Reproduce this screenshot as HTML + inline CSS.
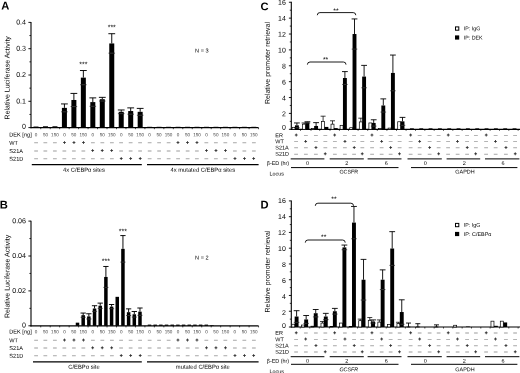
<!DOCTYPE html>
<html lang="en"><head><meta charset="utf-8"><title>Figure</title>
<style>
html,body{margin:0;padding:0;background:#fff;}
body{width:520px;height:373px;overflow:hidden;}
svg{display:block;font-family:"Liberation Sans", sans-serif;filter:blur(0.3px);text-rendering:geometricPrecision;}
</style></head><body>
<svg width="520" height="373" viewBox="0 0 520 373">
<rect x="0" y="0" width="520" height="373" fill="#fff"/>
<line x1="31.00" y1="22.10" x2="31.00" y2="128.20" stroke="#000" stroke-width="1.1" />
<line x1="30.50" y1="127.60" x2="258.50" y2="127.60" stroke="#000" stroke-width="1.2" />
<line x1="28.40" y1="127.60" x2="31.00" y2="127.60" stroke="#000" stroke-width="0.9" />
<text x="26.00" y="128.674" transform="matrix(1 0.001 0 1 0 0)" font-size="7.1" text-anchor="end" font-weight="normal" fill="#000" >0</text>
<line x1="28.40" y1="101.30" x2="31.00" y2="101.30" stroke="#000" stroke-width="0.9" />
<text x="26.00" y="103.374" transform="matrix(1 0.001 0 1 0 0)" font-size="7.1" text-anchor="end" font-weight="normal" fill="#000" >0.1</text>
<line x1="28.40" y1="75.00" x2="31.00" y2="75.00" stroke="#000" stroke-width="0.9" />
<text x="26.00" y="77.074" transform="matrix(1 0.001 0 1 0 0)" font-size="7.1" text-anchor="end" font-weight="normal" fill="#000" >0.2</text>
<line x1="28.40" y1="48.70" x2="31.00" y2="48.70" stroke="#000" stroke-width="0.9" />
<text x="26.00" y="50.774" transform="matrix(1 0.001 0 1 0 0)" font-size="7.1" text-anchor="end" font-weight="normal" fill="#000" >0.3</text>
<line x1="28.40" y1="22.40" x2="31.00" y2="22.40" stroke="#000" stroke-width="0.9" />
<text x="26.00" y="24.474" transform="matrix(1 0.001 0 1 0 0)" font-size="7.1" text-anchor="end" font-weight="normal" fill="#000" >0.4</text>
<line x1="29.40" y1="114.45" x2="31.00" y2="114.45" stroke="#000" stroke-width="0.8" />
<line x1="29.40" y1="88.15" x2="31.00" y2="88.15" stroke="#000" stroke-width="0.8" />
<line x1="29.40" y1="61.85" x2="31.00" y2="61.85" stroke="#000" stroke-width="0.8" />
<line x1="29.40" y1="35.55" x2="31.00" y2="35.55" stroke="#000" stroke-width="0.8" />
<text transform="translate(9.60,77.80) rotate(-90) matrix(1 0.001 0 1 0 0)" font-size="7.0" text-anchor="middle" fill="#000">Relative Luciferase Activity</text>
<text x="1.20" y="9.399" transform="matrix(1 0.001 0 1 0 0)" font-size="11.2" text-anchor="start" font-weight="bold" fill="#000" >A</text>
<line x1="40.74" y1="127.60" x2="40.74" y2="129.20" stroke="#000" stroke-width="0.7" />
<line x1="50.21" y1="127.60" x2="50.21" y2="129.20" stroke="#000" stroke-width="0.7" />
<line x1="59.68" y1="127.60" x2="59.68" y2="129.20" stroke="#000" stroke-width="0.7" />
<line x1="69.15" y1="127.60" x2="69.15" y2="129.20" stroke="#000" stroke-width="0.7" />
<line x1="78.62" y1="127.60" x2="78.62" y2="129.20" stroke="#000" stroke-width="0.7" />
<line x1="88.09" y1="127.60" x2="88.09" y2="129.20" stroke="#000" stroke-width="0.7" />
<line x1="97.56" y1="127.60" x2="97.56" y2="129.20" stroke="#000" stroke-width="0.7" />
<line x1="107.03" y1="127.60" x2="107.03" y2="129.20" stroke="#000" stroke-width="0.7" />
<line x1="116.50" y1="127.60" x2="116.50" y2="129.20" stroke="#000" stroke-width="0.7" />
<line x1="125.97" y1="127.60" x2="125.97" y2="129.20" stroke="#000" stroke-width="0.7" />
<line x1="135.44" y1="127.60" x2="135.44" y2="129.20" stroke="#000" stroke-width="0.7" />
<line x1="144.91" y1="127.60" x2="144.91" y2="129.20" stroke="#000" stroke-width="0.7" />
<line x1="154.38" y1="127.60" x2="154.38" y2="129.20" stroke="#000" stroke-width="0.7" />
<line x1="163.85" y1="127.60" x2="163.85" y2="129.20" stroke="#000" stroke-width="0.7" />
<line x1="173.32" y1="127.60" x2="173.32" y2="129.20" stroke="#000" stroke-width="0.7" />
<line x1="182.79" y1="127.60" x2="182.79" y2="129.20" stroke="#000" stroke-width="0.7" />
<line x1="192.26" y1="127.60" x2="192.26" y2="129.20" stroke="#000" stroke-width="0.7" />
<line x1="201.73" y1="127.60" x2="201.73" y2="129.20" stroke="#000" stroke-width="0.7" />
<line x1="211.20" y1="127.60" x2="211.20" y2="129.20" stroke="#000" stroke-width="0.7" />
<line x1="220.67" y1="127.60" x2="220.67" y2="129.20" stroke="#000" stroke-width="0.7" />
<line x1="230.14" y1="127.60" x2="230.14" y2="129.20" stroke="#000" stroke-width="0.7" />
<line x1="239.61" y1="127.60" x2="239.61" y2="129.20" stroke="#000" stroke-width="0.7" />
<line x1="249.08" y1="127.60" x2="249.08" y2="129.20" stroke="#000" stroke-width="0.7" />
<line x1="258.55" y1="127.60" x2="258.55" y2="129.20" stroke="#000" stroke-width="0.7" />
<rect x="33.50" y="126.55" width="5.00" height="1.05" fill="#000"/>
<rect x="42.97" y="126.28" width="5.00" height="1.31" fill="#000"/>
<rect x="52.44" y="126.28" width="5.00" height="1.31" fill="#000"/>
<rect x="61.91" y="107.88" width="5.00" height="19.72" fill="#000"/>
<line x1="64.41" y1="103.93" x2="64.41" y2="107.88" stroke="#000" stroke-width="0.95" />
<line x1="61.01" y1="103.93" x2="67.81" y2="103.93" stroke="#000" stroke-width="0.95" />
<line x1="61.11" y1="111.82" x2="67.71" y2="111.82" stroke="#000" stroke-width="0.6" />
<line x1="62.51" y1="111.82" x2="66.31" y2="111.82" stroke="#666" stroke-width="0.5" />
<rect x="71.38" y="99.98" width="5.00" height="27.61" fill="#000"/>
<line x1="73.88" y1="93.41" x2="73.88" y2="99.98" stroke="#000" stroke-width="0.95" />
<line x1="70.48" y1="93.41" x2="77.28" y2="93.41" stroke="#000" stroke-width="0.95" />
<line x1="70.58" y1="106.56" x2="77.18" y2="106.56" stroke="#000" stroke-width="0.6" />
<line x1="71.98" y1="106.56" x2="75.78" y2="106.56" stroke="#666" stroke-width="0.5" />
<rect x="80.85" y="77.63" width="5.00" height="49.97" fill="#000"/>
<line x1="83.35" y1="70.53" x2="83.35" y2="77.63" stroke="#000" stroke-width="0.95" />
<line x1="79.95" y1="70.53" x2="86.75" y2="70.53" stroke="#000" stroke-width="0.95" />
<line x1="80.05" y1="84.73" x2="86.65" y2="84.73" stroke="#000" stroke-width="0.6" />
<line x1="81.45" y1="84.73" x2="85.25" y2="84.73" stroke="#666" stroke-width="0.5" />
<rect x="90.32" y="102.09" width="5.00" height="25.51" fill="#000"/>
<line x1="92.82" y1="97.88" x2="92.82" y2="102.09" stroke="#000" stroke-width="0.95" />
<line x1="89.42" y1="97.88" x2="96.22" y2="97.88" stroke="#000" stroke-width="0.95" />
<line x1="89.52" y1="106.30" x2="96.12" y2="106.30" stroke="#000" stroke-width="0.6" />
<line x1="90.92" y1="106.30" x2="94.72" y2="106.30" stroke="#666" stroke-width="0.5" />
<rect x="99.79" y="99.20" width="5.00" height="28.40" fill="#000"/>
<line x1="102.29" y1="97.35" x2="102.29" y2="99.20" stroke="#000" stroke-width="0.95" />
<line x1="98.89" y1="97.35" x2="105.69" y2="97.35" stroke="#000" stroke-width="0.95" />
<line x1="98.99" y1="101.04" x2="105.59" y2="101.04" stroke="#000" stroke-width="0.6" />
<line x1="100.39" y1="101.04" x2="104.19" y2="101.04" stroke="#666" stroke-width="0.5" />
<rect x="109.26" y="43.44" width="5.00" height="84.16" fill="#000"/>
<line x1="111.76" y1="33.71" x2="111.76" y2="43.44" stroke="#000" stroke-width="0.95" />
<line x1="108.36" y1="33.71" x2="115.16" y2="33.71" stroke="#000" stroke-width="0.95" />
<line x1="108.46" y1="53.17" x2="115.06" y2="53.17" stroke="#000" stroke-width="0.6" />
<line x1="109.86" y1="53.17" x2="113.66" y2="53.17" stroke="#666" stroke-width="0.5" />
<rect x="118.73" y="111.82" width="5.00" height="15.78" fill="#000"/>
<line x1="121.23" y1="109.98" x2="121.23" y2="111.82" stroke="#000" stroke-width="0.95" />
<line x1="117.83" y1="109.98" x2="124.63" y2="109.98" stroke="#000" stroke-width="0.95" />
<line x1="117.93" y1="113.66" x2="124.53" y2="113.66" stroke="#000" stroke-width="0.6" />
<line x1="119.33" y1="113.66" x2="123.13" y2="113.66" stroke="#666" stroke-width="0.5" />
<rect x="128.20" y="111.03" width="5.00" height="16.57" fill="#000"/>
<line x1="130.70" y1="107.88" x2="130.70" y2="111.03" stroke="#000" stroke-width="0.95" />
<line x1="127.30" y1="107.88" x2="134.10" y2="107.88" stroke="#000" stroke-width="0.95" />
<line x1="127.40" y1="114.19" x2="134.00" y2="114.19" stroke="#000" stroke-width="0.6" />
<line x1="128.80" y1="114.19" x2="132.60" y2="114.19" stroke="#666" stroke-width="0.5" />
<rect x="137.67" y="111.82" width="5.00" height="15.78" fill="#000"/>
<line x1="140.17" y1="108.40" x2="140.17" y2="111.82" stroke="#000" stroke-width="0.95" />
<line x1="136.77" y1="108.40" x2="143.57" y2="108.40" stroke="#000" stroke-width="0.95" />
<line x1="136.87" y1="115.24" x2="143.47" y2="115.24" stroke="#000" stroke-width="0.6" />
<line x1="138.27" y1="115.24" x2="142.07" y2="115.24" stroke="#666" stroke-width="0.5" />
<rect x="147.14" y="126.81" width="5.00" height="0.79" fill="#000"/>
<rect x="156.61" y="126.81" width="5.00" height="0.79" fill="#000"/>
<rect x="166.08" y="126.81" width="5.00" height="0.79" fill="#000"/>
<rect x="175.55" y="126.81" width="5.00" height="0.79" fill="#000"/>
<rect x="185.02" y="126.81" width="5.00" height="0.79" fill="#000"/>
<rect x="194.49" y="126.81" width="5.00" height="0.79" fill="#000"/>
<rect x="203.96" y="126.81" width="5.00" height="0.79" fill="#000"/>
<rect x="213.43" y="126.81" width="5.00" height="0.79" fill="#000"/>
<rect x="222.90" y="126.81" width="5.00" height="0.79" fill="#000"/>
<rect x="232.37" y="126.81" width="5.00" height="0.79" fill="#000"/>
<rect x="241.84" y="126.81" width="5.00" height="0.79" fill="#000"/>
<rect x="251.31" y="126.81" width="5.00" height="0.79" fill="#000"/>
<text x="83.35" y="66.317" transform="matrix(1 0.001 0 1 0 0)" font-size="7" text-anchor="middle" font-weight="normal" fill="#000" >***</text>
<text x="111.76" y="29.488" transform="matrix(1 0.001 0 1 0 0)" font-size="7" text-anchor="middle" font-weight="normal" fill="#000" >***</text>
<text x="9.30" y="136.441" transform="matrix(1 0.001 0 1 0 0)" font-size="5.6" text-anchor="start" font-weight="normal" fill="#000" >DEK [ng]</text>
<text x="9.30" y="144.841" transform="matrix(1 0.001 0 1 0 0)" font-size="5.6" text-anchor="start" font-weight="normal" fill="#000" >WT</text>
<text x="9.30" y="152.941" transform="matrix(1 0.001 0 1 0 0)" font-size="5.6" text-anchor="start" font-weight="normal" fill="#000" >S21A</text>
<text x="9.30" y="160.741" transform="matrix(1 0.001 0 1 0 0)" font-size="5.6" text-anchor="start" font-weight="normal" fill="#000" >S21D</text>
<text x="36.00" y="136.214" transform="matrix(1 0.001 0 1 0 0)" font-size="4.6" text-anchor="middle" font-weight="normal" fill="#444" >0</text>
<text x="45.47" y="136.205" transform="matrix(1 0.001 0 1 0 0)" font-size="4.6" text-anchor="middle" font-weight="normal" fill="#444" >50</text>
<text x="54.94" y="136.195" transform="matrix(1 0.001 0 1 0 0)" font-size="4.6" text-anchor="middle" font-weight="normal" fill="#444" >150</text>
<text x="64.41" y="136.186" transform="matrix(1 0.001 0 1 0 0)" font-size="4.6" text-anchor="middle" font-weight="normal" fill="#444" >0</text>
<text x="73.88" y="136.176" transform="matrix(1 0.001 0 1 0 0)" font-size="4.6" text-anchor="middle" font-weight="normal" fill="#444" >50</text>
<text x="83.35" y="136.167" transform="matrix(1 0.001 0 1 0 0)" font-size="4.6" text-anchor="middle" font-weight="normal" fill="#444" >150</text>
<text x="92.82" y="136.157" transform="matrix(1 0.001 0 1 0 0)" font-size="4.6" text-anchor="middle" font-weight="normal" fill="#444" >0</text>
<text x="102.29" y="136.148" transform="matrix(1 0.001 0 1 0 0)" font-size="4.6" text-anchor="middle" font-weight="normal" fill="#444" >50</text>
<text x="111.76" y="136.138" transform="matrix(1 0.001 0 1 0 0)" font-size="4.6" text-anchor="middle" font-weight="normal" fill="#444" >150</text>
<text x="121.23" y="136.129" transform="matrix(1 0.001 0 1 0 0)" font-size="4.6" text-anchor="middle" font-weight="normal" fill="#444" >0</text>
<text x="130.70" y="136.119" transform="matrix(1 0.001 0 1 0 0)" font-size="4.6" text-anchor="middle" font-weight="normal" fill="#444" >50</text>
<text x="140.17" y="136.110" transform="matrix(1 0.001 0 1 0 0)" font-size="4.6" text-anchor="middle" font-weight="normal" fill="#444" >150</text>
<text x="149.64" y="136.100" transform="matrix(1 0.001 0 1 0 0)" font-size="4.6" text-anchor="middle" font-weight="normal" fill="#444" >0</text>
<text x="159.11" y="136.091" transform="matrix(1 0.001 0 1 0 0)" font-size="4.6" text-anchor="middle" font-weight="normal" fill="#444" >50</text>
<text x="168.58" y="136.081" transform="matrix(1 0.001 0 1 0 0)" font-size="4.6" text-anchor="middle" font-weight="normal" fill="#444" >150</text>
<text x="178.05" y="136.072" transform="matrix(1 0.001 0 1 0 0)" font-size="4.6" text-anchor="middle" font-weight="normal" fill="#444" >0</text>
<text x="187.52" y="136.062" transform="matrix(1 0.001 0 1 0 0)" font-size="4.6" text-anchor="middle" font-weight="normal" fill="#444" >50</text>
<text x="196.99" y="136.053" transform="matrix(1 0.001 0 1 0 0)" font-size="4.6" text-anchor="middle" font-weight="normal" fill="#444" >150</text>
<text x="206.46" y="136.044" transform="matrix(1 0.001 0 1 0 0)" font-size="4.6" text-anchor="middle" font-weight="normal" fill="#444" >0</text>
<text x="215.93" y="136.034" transform="matrix(1 0.001 0 1 0 0)" font-size="4.6" text-anchor="middle" font-weight="normal" fill="#444" >50</text>
<text x="225.40" y="136.025" transform="matrix(1 0.001 0 1 0 0)" font-size="4.6" text-anchor="middle" font-weight="normal" fill="#444" >150</text>
<text x="234.87" y="136.015" transform="matrix(1 0.001 0 1 0 0)" font-size="4.6" text-anchor="middle" font-weight="normal" fill="#444" >0</text>
<text x="244.34" y="136.006" transform="matrix(1 0.001 0 1 0 0)" font-size="4.6" text-anchor="middle" font-weight="normal" fill="#444" >50</text>
<text x="253.81" y="135.996" transform="matrix(1 0.001 0 1 0 0)" font-size="4.6" text-anchor="middle" font-weight="normal" fill="#444" >150</text>
<text x="36.00" y="144.314" transform="matrix(1 0.001 0 1 0 0)" font-size="5.8" text-anchor="middle" font-weight="normal" fill="#b4b4b4" stroke="#b4b4b4" stroke-width="0.55">&#8211;</text>
<text x="45.47" y="144.305" transform="matrix(1 0.001 0 1 0 0)" font-size="5.8" text-anchor="middle" font-weight="normal" fill="#b4b4b4" stroke="#b4b4b4" stroke-width="0.55">&#8211;</text>
<text x="54.94" y="144.295" transform="matrix(1 0.001 0 1 0 0)" font-size="5.8" text-anchor="middle" font-weight="normal" fill="#b4b4b4" stroke="#b4b4b4" stroke-width="0.55">&#8211;</text>
<text x="64.41" y="144.186" transform="matrix(1 0.001 0 1 0 0)" font-size="5" text-anchor="middle" font-weight="bold" fill="#111" stroke="#111" stroke-width="0.2">+</text>
<text x="73.88" y="144.176" transform="matrix(1 0.001 0 1 0 0)" font-size="5" text-anchor="middle" font-weight="bold" fill="#111" stroke="#111" stroke-width="0.2">+</text>
<text x="83.35" y="144.167" transform="matrix(1 0.001 0 1 0 0)" font-size="5" text-anchor="middle" font-weight="bold" fill="#111" stroke="#111" stroke-width="0.2">+</text>
<text x="92.82" y="144.257" transform="matrix(1 0.001 0 1 0 0)" font-size="5.8" text-anchor="middle" font-weight="normal" fill="#b4b4b4" stroke="#b4b4b4" stroke-width="0.55">&#8211;</text>
<text x="102.29" y="144.248" transform="matrix(1 0.001 0 1 0 0)" font-size="5.8" text-anchor="middle" font-weight="normal" fill="#b4b4b4" stroke="#b4b4b4" stroke-width="0.55">&#8211;</text>
<text x="111.76" y="144.238" transform="matrix(1 0.001 0 1 0 0)" font-size="5.8" text-anchor="middle" font-weight="normal" fill="#b4b4b4" stroke="#b4b4b4" stroke-width="0.55">&#8211;</text>
<text x="121.23" y="144.229" transform="matrix(1 0.001 0 1 0 0)" font-size="5.8" text-anchor="middle" font-weight="normal" fill="#b4b4b4" stroke="#b4b4b4" stroke-width="0.55">&#8211;</text>
<text x="130.70" y="144.219" transform="matrix(1 0.001 0 1 0 0)" font-size="5.8" text-anchor="middle" font-weight="normal" fill="#b4b4b4" stroke="#b4b4b4" stroke-width="0.55">&#8211;</text>
<text x="140.17" y="144.210" transform="matrix(1 0.001 0 1 0 0)" font-size="5.8" text-anchor="middle" font-weight="normal" fill="#b4b4b4" stroke="#b4b4b4" stroke-width="0.55">&#8211;</text>
<text x="149.64" y="144.200" transform="matrix(1 0.001 0 1 0 0)" font-size="5.8" text-anchor="middle" font-weight="normal" fill="#b4b4b4" stroke="#b4b4b4" stroke-width="0.55">&#8211;</text>
<text x="159.11" y="144.191" transform="matrix(1 0.001 0 1 0 0)" font-size="5.8" text-anchor="middle" font-weight="normal" fill="#b4b4b4" stroke="#b4b4b4" stroke-width="0.55">&#8211;</text>
<text x="168.58" y="144.181" transform="matrix(1 0.001 0 1 0 0)" font-size="5.8" text-anchor="middle" font-weight="normal" fill="#b4b4b4" stroke="#b4b4b4" stroke-width="0.55">&#8211;</text>
<text x="178.05" y="144.072" transform="matrix(1 0.001 0 1 0 0)" font-size="5" text-anchor="middle" font-weight="bold" fill="#111" stroke="#111" stroke-width="0.2">+</text>
<text x="187.52" y="144.062" transform="matrix(1 0.001 0 1 0 0)" font-size="5" text-anchor="middle" font-weight="bold" fill="#111" stroke="#111" stroke-width="0.2">+</text>
<text x="196.99" y="144.053" transform="matrix(1 0.001 0 1 0 0)" font-size="5" text-anchor="middle" font-weight="bold" fill="#111" stroke="#111" stroke-width="0.2">+</text>
<text x="206.46" y="144.144" transform="matrix(1 0.001 0 1 0 0)" font-size="5.8" text-anchor="middle" font-weight="normal" fill="#b4b4b4" stroke="#b4b4b4" stroke-width="0.55">&#8211;</text>
<text x="215.93" y="144.134" transform="matrix(1 0.001 0 1 0 0)" font-size="5.8" text-anchor="middle" font-weight="normal" fill="#b4b4b4" stroke="#b4b4b4" stroke-width="0.55">&#8211;</text>
<text x="225.40" y="144.125" transform="matrix(1 0.001 0 1 0 0)" font-size="5.8" text-anchor="middle" font-weight="normal" fill="#b4b4b4" stroke="#b4b4b4" stroke-width="0.55">&#8211;</text>
<text x="234.87" y="144.115" transform="matrix(1 0.001 0 1 0 0)" font-size="5.8" text-anchor="middle" font-weight="normal" fill="#b4b4b4" stroke="#b4b4b4" stroke-width="0.55">&#8211;</text>
<text x="244.34" y="144.106" transform="matrix(1 0.001 0 1 0 0)" font-size="5.8" text-anchor="middle" font-weight="normal" fill="#b4b4b4" stroke="#b4b4b4" stroke-width="0.55">&#8211;</text>
<text x="253.81" y="144.096" transform="matrix(1 0.001 0 1 0 0)" font-size="5.8" text-anchor="middle" font-weight="normal" fill="#b4b4b4" stroke="#b4b4b4" stroke-width="0.55">&#8211;</text>
<text x="36.00" y="152.414" transform="matrix(1 0.001 0 1 0 0)" font-size="5.8" text-anchor="middle" font-weight="normal" fill="#b4b4b4" stroke="#b4b4b4" stroke-width="0.55">&#8211;</text>
<text x="45.47" y="152.405" transform="matrix(1 0.001 0 1 0 0)" font-size="5.8" text-anchor="middle" font-weight="normal" fill="#b4b4b4" stroke="#b4b4b4" stroke-width="0.55">&#8211;</text>
<text x="54.94" y="152.395" transform="matrix(1 0.001 0 1 0 0)" font-size="5.8" text-anchor="middle" font-weight="normal" fill="#b4b4b4" stroke="#b4b4b4" stroke-width="0.55">&#8211;</text>
<text x="64.41" y="152.386" transform="matrix(1 0.001 0 1 0 0)" font-size="5.8" text-anchor="middle" font-weight="normal" fill="#b4b4b4" stroke="#b4b4b4" stroke-width="0.55">&#8211;</text>
<text x="73.88" y="152.376" transform="matrix(1 0.001 0 1 0 0)" font-size="5.8" text-anchor="middle" font-weight="normal" fill="#b4b4b4" stroke="#b4b4b4" stroke-width="0.55">&#8211;</text>
<text x="83.35" y="152.367" transform="matrix(1 0.001 0 1 0 0)" font-size="5.8" text-anchor="middle" font-weight="normal" fill="#b4b4b4" stroke="#b4b4b4" stroke-width="0.55">&#8211;</text>
<text x="92.82" y="152.257" transform="matrix(1 0.001 0 1 0 0)" font-size="5" text-anchor="middle" font-weight="bold" fill="#111" stroke="#111" stroke-width="0.2">+</text>
<text x="102.29" y="152.248" transform="matrix(1 0.001 0 1 0 0)" font-size="5" text-anchor="middle" font-weight="bold" fill="#111" stroke="#111" stroke-width="0.2">+</text>
<text x="111.76" y="152.238" transform="matrix(1 0.001 0 1 0 0)" font-size="5" text-anchor="middle" font-weight="bold" fill="#111" stroke="#111" stroke-width="0.2">+</text>
<text x="121.23" y="152.329" transform="matrix(1 0.001 0 1 0 0)" font-size="5.8" text-anchor="middle" font-weight="normal" fill="#b4b4b4" stroke="#b4b4b4" stroke-width="0.55">&#8211;</text>
<text x="130.70" y="152.319" transform="matrix(1 0.001 0 1 0 0)" font-size="5.8" text-anchor="middle" font-weight="normal" fill="#b4b4b4" stroke="#b4b4b4" stroke-width="0.55">&#8211;</text>
<text x="140.17" y="152.310" transform="matrix(1 0.001 0 1 0 0)" font-size="5.8" text-anchor="middle" font-weight="normal" fill="#b4b4b4" stroke="#b4b4b4" stroke-width="0.55">&#8211;</text>
<text x="149.64" y="152.300" transform="matrix(1 0.001 0 1 0 0)" font-size="5.8" text-anchor="middle" font-weight="normal" fill="#b4b4b4" stroke="#b4b4b4" stroke-width="0.55">&#8211;</text>
<text x="159.11" y="152.291" transform="matrix(1 0.001 0 1 0 0)" font-size="5.8" text-anchor="middle" font-weight="normal" fill="#b4b4b4" stroke="#b4b4b4" stroke-width="0.55">&#8211;</text>
<text x="168.58" y="152.281" transform="matrix(1 0.001 0 1 0 0)" font-size="5.8" text-anchor="middle" font-weight="normal" fill="#b4b4b4" stroke="#b4b4b4" stroke-width="0.55">&#8211;</text>
<text x="178.05" y="152.272" transform="matrix(1 0.001 0 1 0 0)" font-size="5.8" text-anchor="middle" font-weight="normal" fill="#b4b4b4" stroke="#b4b4b4" stroke-width="0.55">&#8211;</text>
<text x="187.52" y="152.262" transform="matrix(1 0.001 0 1 0 0)" font-size="5.8" text-anchor="middle" font-weight="normal" fill="#b4b4b4" stroke="#b4b4b4" stroke-width="0.55">&#8211;</text>
<text x="196.99" y="152.253" transform="matrix(1 0.001 0 1 0 0)" font-size="5.8" text-anchor="middle" font-weight="normal" fill="#b4b4b4" stroke="#b4b4b4" stroke-width="0.55">&#8211;</text>
<text x="206.46" y="152.144" transform="matrix(1 0.001 0 1 0 0)" font-size="5" text-anchor="middle" font-weight="bold" fill="#111" stroke="#111" stroke-width="0.2">+</text>
<text x="215.93" y="152.134" transform="matrix(1 0.001 0 1 0 0)" font-size="5" text-anchor="middle" font-weight="bold" fill="#111" stroke="#111" stroke-width="0.2">+</text>
<text x="225.40" y="152.125" transform="matrix(1 0.001 0 1 0 0)" font-size="5" text-anchor="middle" font-weight="bold" fill="#111" stroke="#111" stroke-width="0.2">+</text>
<text x="234.87" y="152.215" transform="matrix(1 0.001 0 1 0 0)" font-size="5.8" text-anchor="middle" font-weight="normal" fill="#b4b4b4" stroke="#b4b4b4" stroke-width="0.55">&#8211;</text>
<text x="244.34" y="152.206" transform="matrix(1 0.001 0 1 0 0)" font-size="5.8" text-anchor="middle" font-weight="normal" fill="#b4b4b4" stroke="#b4b4b4" stroke-width="0.55">&#8211;</text>
<text x="253.81" y="152.196" transform="matrix(1 0.001 0 1 0 0)" font-size="5.8" text-anchor="middle" font-weight="normal" fill="#b4b4b4" stroke="#b4b4b4" stroke-width="0.55">&#8211;</text>
<text x="36.00" y="160.214" transform="matrix(1 0.001 0 1 0 0)" font-size="5.8" text-anchor="middle" font-weight="normal" fill="#b4b4b4" stroke="#b4b4b4" stroke-width="0.55">&#8211;</text>
<text x="45.47" y="160.205" transform="matrix(1 0.001 0 1 0 0)" font-size="5.8" text-anchor="middle" font-weight="normal" fill="#b4b4b4" stroke="#b4b4b4" stroke-width="0.55">&#8211;</text>
<text x="54.94" y="160.195" transform="matrix(1 0.001 0 1 0 0)" font-size="5.8" text-anchor="middle" font-weight="normal" fill="#b4b4b4" stroke="#b4b4b4" stroke-width="0.55">&#8211;</text>
<text x="64.41" y="160.186" transform="matrix(1 0.001 0 1 0 0)" font-size="5.8" text-anchor="middle" font-weight="normal" fill="#b4b4b4" stroke="#b4b4b4" stroke-width="0.55">&#8211;</text>
<text x="73.88" y="160.176" transform="matrix(1 0.001 0 1 0 0)" font-size="5.8" text-anchor="middle" font-weight="normal" fill="#b4b4b4" stroke="#b4b4b4" stroke-width="0.55">&#8211;</text>
<text x="83.35" y="160.167" transform="matrix(1 0.001 0 1 0 0)" font-size="5.8" text-anchor="middle" font-weight="normal" fill="#b4b4b4" stroke="#b4b4b4" stroke-width="0.55">&#8211;</text>
<text x="92.82" y="160.157" transform="matrix(1 0.001 0 1 0 0)" font-size="5.8" text-anchor="middle" font-weight="normal" fill="#b4b4b4" stroke="#b4b4b4" stroke-width="0.55">&#8211;</text>
<text x="102.29" y="160.148" transform="matrix(1 0.001 0 1 0 0)" font-size="5.8" text-anchor="middle" font-weight="normal" fill="#b4b4b4" stroke="#b4b4b4" stroke-width="0.55">&#8211;</text>
<text x="111.76" y="160.138" transform="matrix(1 0.001 0 1 0 0)" font-size="5.8" text-anchor="middle" font-weight="normal" fill="#b4b4b4" stroke="#b4b4b4" stroke-width="0.55">&#8211;</text>
<text x="121.23" y="160.029" transform="matrix(1 0.001 0 1 0 0)" font-size="5" text-anchor="middle" font-weight="bold" fill="#111" stroke="#111" stroke-width="0.2">+</text>
<text x="130.70" y="160.019" transform="matrix(1 0.001 0 1 0 0)" font-size="5" text-anchor="middle" font-weight="bold" fill="#111" stroke="#111" stroke-width="0.2">+</text>
<text x="140.17" y="160.010" transform="matrix(1 0.001 0 1 0 0)" font-size="5" text-anchor="middle" font-weight="bold" fill="#111" stroke="#111" stroke-width="0.2">+</text>
<text x="149.64" y="160.100" transform="matrix(1 0.001 0 1 0 0)" font-size="5.8" text-anchor="middle" font-weight="normal" fill="#b4b4b4" stroke="#b4b4b4" stroke-width="0.55">&#8211;</text>
<text x="159.11" y="160.091" transform="matrix(1 0.001 0 1 0 0)" font-size="5.8" text-anchor="middle" font-weight="normal" fill="#b4b4b4" stroke="#b4b4b4" stroke-width="0.55">&#8211;</text>
<text x="168.58" y="160.081" transform="matrix(1 0.001 0 1 0 0)" font-size="5.8" text-anchor="middle" font-weight="normal" fill="#b4b4b4" stroke="#b4b4b4" stroke-width="0.55">&#8211;</text>
<text x="178.05" y="160.072" transform="matrix(1 0.001 0 1 0 0)" font-size="5.8" text-anchor="middle" font-weight="normal" fill="#b4b4b4" stroke="#b4b4b4" stroke-width="0.55">&#8211;</text>
<text x="187.52" y="160.062" transform="matrix(1 0.001 0 1 0 0)" font-size="5.8" text-anchor="middle" font-weight="normal" fill="#b4b4b4" stroke="#b4b4b4" stroke-width="0.55">&#8211;</text>
<text x="196.99" y="160.053" transform="matrix(1 0.001 0 1 0 0)" font-size="5.8" text-anchor="middle" font-weight="normal" fill="#b4b4b4" stroke="#b4b4b4" stroke-width="0.55">&#8211;</text>
<text x="206.46" y="160.044" transform="matrix(1 0.001 0 1 0 0)" font-size="5.8" text-anchor="middle" font-weight="normal" fill="#b4b4b4" stroke="#b4b4b4" stroke-width="0.55">&#8211;</text>
<text x="215.93" y="160.034" transform="matrix(1 0.001 0 1 0 0)" font-size="5.8" text-anchor="middle" font-weight="normal" fill="#b4b4b4" stroke="#b4b4b4" stroke-width="0.55">&#8211;</text>
<text x="225.40" y="160.025" transform="matrix(1 0.001 0 1 0 0)" font-size="5.8" text-anchor="middle" font-weight="normal" fill="#b4b4b4" stroke="#b4b4b4" stroke-width="0.55">&#8211;</text>
<text x="234.87" y="159.915" transform="matrix(1 0.001 0 1 0 0)" font-size="5" text-anchor="middle" font-weight="bold" fill="#111" stroke="#111" stroke-width="0.2">+</text>
<text x="244.34" y="159.906" transform="matrix(1 0.001 0 1 0 0)" font-size="5" text-anchor="middle" font-weight="bold" fill="#111" stroke="#111" stroke-width="0.2">+</text>
<text x="253.81" y="159.896" transform="matrix(1 0.001 0 1 0 0)" font-size="5" text-anchor="middle" font-weight="bold" fill="#111" stroke="#111" stroke-width="0.2">+</text>
<line x1="31.80" y1="164.60" x2="141.80" y2="164.60" stroke="#000" stroke-width="1.3" />
<line x1="147.00" y1="164.60" x2="258.60" y2="164.60" stroke="#000" stroke-width="1.3" />
<text x="84.00" y="171.716" transform="matrix(1 0.001 0 1 0 0)" font-size="5.8" text-anchor="middle" font-weight="normal" fill="#000" >4x C/EBP&#945; sites</text>
<text x="202.80" y="171.597" transform="matrix(1 0.001 0 1 0 0)" font-size="5.8" text-anchor="middle" font-weight="normal" fill="#000" >4x mutated C/EBP&#945; sites</text>
<text x="201.80" y="52.198" transform="matrix(1 0.001 0 1 0 0)" font-size="5.6" text-anchor="middle" font-weight="normal" fill="#000" >N = 3</text>
<line x1="31.00" y1="220.80" x2="31.00" y2="326.40" stroke="#000" stroke-width="1.1" />
<line x1="30.50" y1="325.80" x2="258.50" y2="325.80" stroke="#000" stroke-width="1.2" />
<line x1="28.40" y1="325.80" x2="31.00" y2="325.80" stroke="#000" stroke-width="0.9" />
<text x="26.00" y="327.524" transform="matrix(1 0.001 0 1 0 0)" font-size="7.1" text-anchor="end" font-weight="normal" fill="#000" >0</text>
<line x1="28.40" y1="290.90" x2="31.00" y2="290.90" stroke="#000" stroke-width="0.9" />
<text x="26.00" y="292.974" transform="matrix(1 0.001 0 1 0 0)" font-size="7.1" text-anchor="end" font-weight="normal" fill="#000" >0.02</text>
<line x1="28.40" y1="256.00" x2="31.00" y2="256.00" stroke="#000" stroke-width="0.9" />
<text x="26.00" y="258.074" transform="matrix(1 0.001 0 1 0 0)" font-size="7.1" text-anchor="end" font-weight="normal" fill="#000" >0.04</text>
<line x1="28.40" y1="221.10" x2="31.00" y2="221.10" stroke="#000" stroke-width="0.9" />
<text x="26.00" y="223.174" transform="matrix(1 0.001 0 1 0 0)" font-size="7.1" text-anchor="end" font-weight="normal" fill="#000" >0.06</text>
<line x1="29.40" y1="308.35" x2="31.00" y2="308.35" stroke="#000" stroke-width="0.8" />
<line x1="29.40" y1="273.45" x2="31.00" y2="273.45" stroke="#000" stroke-width="0.8" />
<line x1="29.40" y1="238.55" x2="31.00" y2="238.55" stroke="#000" stroke-width="0.8" />
<text transform="translate(9.60,276.40) rotate(-90) matrix(1 0.001 0 1 0 0)" font-size="7.0" text-anchor="middle" fill="#000">Relative Luciferase Activity</text>
<text x="-0.30" y="208.600" transform="matrix(1 0.001 0 1 0 0)" font-size="11.2" text-anchor="start" font-weight="bold" fill="#000" >B</text>
<line x1="40.74" y1="325.80" x2="40.74" y2="327.40" stroke="#000" stroke-width="0.7" />
<line x1="50.21" y1="325.80" x2="50.21" y2="327.40" stroke="#000" stroke-width="0.7" />
<line x1="59.68" y1="325.80" x2="59.68" y2="327.40" stroke="#000" stroke-width="0.7" />
<line x1="69.15" y1="325.80" x2="69.15" y2="327.40" stroke="#000" stroke-width="0.7" />
<line x1="78.62" y1="325.80" x2="78.62" y2="327.40" stroke="#000" stroke-width="0.7" />
<line x1="88.09" y1="325.80" x2="88.09" y2="327.40" stroke="#000" stroke-width="0.7" />
<line x1="97.56" y1="325.80" x2="97.56" y2="327.40" stroke="#000" stroke-width="0.7" />
<line x1="107.03" y1="325.80" x2="107.03" y2="327.40" stroke="#000" stroke-width="0.7" />
<line x1="116.50" y1="325.80" x2="116.50" y2="327.40" stroke="#000" stroke-width="0.7" />
<line x1="125.97" y1="325.80" x2="125.97" y2="327.40" stroke="#000" stroke-width="0.7" />
<line x1="135.44" y1="325.80" x2="135.44" y2="327.40" stroke="#000" stroke-width="0.7" />
<line x1="144.91" y1="325.80" x2="144.91" y2="327.40" stroke="#000" stroke-width="0.7" />
<line x1="154.38" y1="325.80" x2="154.38" y2="327.40" stroke="#000" stroke-width="0.7" />
<line x1="163.85" y1="325.80" x2="163.85" y2="327.40" stroke="#000" stroke-width="0.7" />
<line x1="173.32" y1="325.80" x2="173.32" y2="327.40" stroke="#000" stroke-width="0.7" />
<line x1="182.79" y1="325.80" x2="182.79" y2="327.40" stroke="#000" stroke-width="0.7" />
<line x1="192.26" y1="325.80" x2="192.26" y2="327.40" stroke="#000" stroke-width="0.7" />
<line x1="201.73" y1="325.80" x2="201.73" y2="327.40" stroke="#000" stroke-width="0.7" />
<line x1="211.20" y1="325.80" x2="211.20" y2="327.40" stroke="#000" stroke-width="0.7" />
<line x1="220.67" y1="325.80" x2="220.67" y2="327.40" stroke="#000" stroke-width="0.7" />
<line x1="230.14" y1="325.80" x2="230.14" y2="327.40" stroke="#000" stroke-width="0.7" />
<line x1="239.61" y1="325.80" x2="239.61" y2="327.40" stroke="#000" stroke-width="0.7" />
<line x1="249.08" y1="325.80" x2="249.08" y2="327.40" stroke="#000" stroke-width="0.7" />
<line x1="258.55" y1="325.80" x2="258.55" y2="327.40" stroke="#000" stroke-width="0.7" />
<rect x="75.75" y="322.66" width="3.50" height="3.14" fill="#000"/>
<rect x="81.43" y="315.16" width="3.50" height="10.64" fill="#000"/>
<line x1="83.18" y1="313.06" x2="83.18" y2="315.16" stroke="#000" stroke-width="0.95" />
<line x1="80.53" y1="313.06" x2="85.83" y2="313.06" stroke="#000" stroke-width="0.95" />
<line x1="80.63" y1="317.25" x2="85.73" y2="317.25" stroke="#000" stroke-width="0.6" />
<line x1="82.03" y1="317.25" x2="84.33" y2="317.25" stroke="#666" stroke-width="0.5" />
<rect x="87.11" y="316.38" width="3.50" height="9.42" fill="#000"/>
<line x1="88.86" y1="313.76" x2="88.86" y2="316.38" stroke="#000" stroke-width="0.95" />
<line x1="86.21" y1="313.76" x2="91.51" y2="313.76" stroke="#000" stroke-width="0.95" />
<line x1="86.31" y1="318.99" x2="91.41" y2="318.99" stroke="#000" stroke-width="0.6" />
<line x1="87.71" y1="318.99" x2="90.01" y2="318.99" stroke="#666" stroke-width="0.5" />
<rect x="92.79" y="308.52" width="3.50" height="17.28" fill="#000"/>
<line x1="94.54" y1="305.73" x2="94.54" y2="308.52" stroke="#000" stroke-width="0.95" />
<line x1="91.89" y1="305.73" x2="97.19" y2="305.73" stroke="#000" stroke-width="0.95" />
<line x1="91.99" y1="311.32" x2="97.09" y2="311.32" stroke="#000" stroke-width="0.6" />
<line x1="93.39" y1="311.32" x2="95.69" y2="311.32" stroke="#666" stroke-width="0.5" />
<rect x="98.47" y="305.73" width="3.50" height="20.07" fill="#000"/>
<line x1="100.22" y1="303.12" x2="100.22" y2="305.73" stroke="#000" stroke-width="0.95" />
<line x1="97.57" y1="303.12" x2="102.87" y2="303.12" stroke="#000" stroke-width="0.95" />
<line x1="97.67" y1="308.35" x2="102.77" y2="308.35" stroke="#000" stroke-width="0.6" />
<line x1="99.07" y1="308.35" x2="101.37" y2="308.35" stroke="#666" stroke-width="0.5" />
<rect x="104.15" y="276.94" width="3.50" height="48.86" fill="#000"/>
<line x1="105.90" y1="266.47" x2="105.90" y2="276.94" stroke="#000" stroke-width="0.95" />
<line x1="103.25" y1="266.47" x2="108.55" y2="266.47" stroke="#000" stroke-width="0.95" />
<line x1="103.35" y1="287.41" x2="108.45" y2="287.41" stroke="#000" stroke-width="0.6" />
<line x1="104.75" y1="287.41" x2="107.05" y2="287.41" stroke="#666" stroke-width="0.5" />
<rect x="109.83" y="306.61" width="3.50" height="19.19" fill="#000"/>
<line x1="111.58" y1="304.51" x2="111.58" y2="306.61" stroke="#000" stroke-width="0.95" />
<line x1="108.93" y1="304.51" x2="114.23" y2="304.51" stroke="#000" stroke-width="0.95" />
<line x1="109.03" y1="308.70" x2="114.13" y2="308.70" stroke="#000" stroke-width="0.6" />
<line x1="110.43" y1="308.70" x2="112.73" y2="308.70" stroke="#666" stroke-width="0.5" />
<rect x="115.51" y="296.83" width="3.50" height="28.97" fill="#000"/>
<rect x="121.19" y="248.85" width="3.50" height="76.95" fill="#000"/>
<line x1="122.94" y1="235.58" x2="122.94" y2="248.85" stroke="#000" stroke-width="0.95" />
<line x1="120.29" y1="235.58" x2="125.59" y2="235.58" stroke="#000" stroke-width="0.95" />
<line x1="120.39" y1="262.11" x2="125.49" y2="262.11" stroke="#000" stroke-width="0.6" />
<line x1="121.79" y1="262.11" x2="124.09" y2="262.11" stroke="#666" stroke-width="0.5" />
<rect x="126.87" y="312.19" width="3.50" height="13.61" fill="#000"/>
<line x1="128.62" y1="308.87" x2="128.62" y2="312.19" stroke="#000" stroke-width="0.95" />
<line x1="125.97" y1="308.87" x2="131.27" y2="308.87" stroke="#000" stroke-width="0.95" />
<line x1="126.07" y1="315.50" x2="131.17" y2="315.50" stroke="#000" stroke-width="0.6" />
<line x1="127.47" y1="315.50" x2="129.77" y2="315.50" stroke="#666" stroke-width="0.5" />
<rect x="132.55" y="314.28" width="3.50" height="11.52" fill="#000"/>
<line x1="134.30" y1="311.49" x2="134.30" y2="314.28" stroke="#000" stroke-width="0.95" />
<line x1="131.65" y1="311.49" x2="136.95" y2="311.49" stroke="#000" stroke-width="0.95" />
<line x1="131.75" y1="317.08" x2="136.85" y2="317.08" stroke="#000" stroke-width="0.6" />
<line x1="133.15" y1="317.08" x2="135.45" y2="317.08" stroke="#666" stroke-width="0.5" />
<rect x="138.23" y="311.67" width="3.50" height="14.13" fill="#000"/>
<line x1="139.98" y1="308.00" x2="139.98" y2="311.67" stroke="#000" stroke-width="0.95" />
<line x1="137.33" y1="308.00" x2="142.63" y2="308.00" stroke="#000" stroke-width="0.95" />
<line x1="137.43" y1="315.33" x2="142.53" y2="315.33" stroke="#000" stroke-width="0.6" />
<line x1="138.83" y1="315.33" x2="141.13" y2="315.33" stroke="#666" stroke-width="0.5" />
<rect x="147.75" y="324.60" width="3.50" height="1.20" fill="#000"/>
<rect x="153.43" y="324.60" width="3.50" height="1.20" fill="#000"/>
<rect x="159.11" y="324.60" width="3.50" height="1.20" fill="#000"/>
<rect x="164.79" y="324.60" width="3.50" height="1.20" fill="#000"/>
<rect x="170.47" y="324.60" width="3.50" height="1.20" fill="#000"/>
<rect x="176.15" y="324.60" width="3.50" height="1.20" fill="#000"/>
<rect x="181.83" y="324.60" width="3.50" height="1.20" fill="#000"/>
<rect x="187.51" y="324.60" width="3.50" height="1.20" fill="#000"/>
<rect x="193.19" y="324.60" width="3.50" height="1.20" fill="#000"/>
<rect x="198.87" y="324.60" width="3.50" height="1.20" fill="#000"/>
<rect x="204.55" y="324.60" width="3.50" height="1.20" fill="#000"/>
<rect x="210.23" y="325.20" width="3.50" height="0.60" fill="#000"/>
<text x="105.90" y="263.194" transform="matrix(1 0.001 0 1 0 0)" font-size="7" text-anchor="middle" font-weight="normal" fill="#000" >***</text>
<text x="122.94" y="233.477" transform="matrix(1 0.001 0 1 0 0)" font-size="7" text-anchor="middle" font-weight="normal" fill="#000" >***</text>
<text x="9.30" y="333.441" transform="matrix(1 0.001 0 1 0 0)" font-size="5.6" text-anchor="start" font-weight="normal" fill="#000" >DEK [ng]</text>
<text x="9.30" y="342.241" transform="matrix(1 0.001 0 1 0 0)" font-size="5.6" text-anchor="start" font-weight="normal" fill="#000" >WT</text>
<text x="9.30" y="350.041" transform="matrix(1 0.001 0 1 0 0)" font-size="5.6" text-anchor="start" font-weight="normal" fill="#000" >S21A</text>
<text x="9.30" y="357.741" transform="matrix(1 0.001 0 1 0 0)" font-size="5.6" text-anchor="start" font-weight="normal" fill="#000" >S21D</text>
<text x="36.00" y="333.214" transform="matrix(1 0.001 0 1 0 0)" font-size="4.6" text-anchor="middle" font-weight="normal" fill="#444" >0</text>
<text x="45.47" y="333.205" transform="matrix(1 0.001 0 1 0 0)" font-size="4.6" text-anchor="middle" font-weight="normal" fill="#444" >50</text>
<text x="54.94" y="333.195" transform="matrix(1 0.001 0 1 0 0)" font-size="4.6" text-anchor="middle" font-weight="normal" fill="#444" >150</text>
<text x="64.41" y="333.186" transform="matrix(1 0.001 0 1 0 0)" font-size="4.6" text-anchor="middle" font-weight="normal" fill="#444" >0</text>
<text x="73.88" y="333.176" transform="matrix(1 0.001 0 1 0 0)" font-size="4.6" text-anchor="middle" font-weight="normal" fill="#444" >50</text>
<text x="83.35" y="333.167" transform="matrix(1 0.001 0 1 0 0)" font-size="4.6" text-anchor="middle" font-weight="normal" fill="#444" >150</text>
<text x="92.82" y="333.157" transform="matrix(1 0.001 0 1 0 0)" font-size="4.6" text-anchor="middle" font-weight="normal" fill="#444" >0</text>
<text x="102.29" y="333.148" transform="matrix(1 0.001 0 1 0 0)" font-size="4.6" text-anchor="middle" font-weight="normal" fill="#444" >50</text>
<text x="111.76" y="333.138" transform="matrix(1 0.001 0 1 0 0)" font-size="4.6" text-anchor="middle" font-weight="normal" fill="#444" >150</text>
<text x="121.23" y="333.129" transform="matrix(1 0.001 0 1 0 0)" font-size="4.6" text-anchor="middle" font-weight="normal" fill="#444" >0</text>
<text x="130.70" y="333.119" transform="matrix(1 0.001 0 1 0 0)" font-size="4.6" text-anchor="middle" font-weight="normal" fill="#444" >50</text>
<text x="140.17" y="333.110" transform="matrix(1 0.001 0 1 0 0)" font-size="4.6" text-anchor="middle" font-weight="normal" fill="#444" >150</text>
<text x="149.64" y="333.100" transform="matrix(1 0.001 0 1 0 0)" font-size="4.6" text-anchor="middle" font-weight="normal" fill="#444" >0</text>
<text x="159.11" y="333.091" transform="matrix(1 0.001 0 1 0 0)" font-size="4.6" text-anchor="middle" font-weight="normal" fill="#444" >50</text>
<text x="168.58" y="333.081" transform="matrix(1 0.001 0 1 0 0)" font-size="4.6" text-anchor="middle" font-weight="normal" fill="#444" >150</text>
<text x="178.05" y="333.072" transform="matrix(1 0.001 0 1 0 0)" font-size="4.6" text-anchor="middle" font-weight="normal" fill="#444" >0</text>
<text x="187.52" y="333.062" transform="matrix(1 0.001 0 1 0 0)" font-size="4.6" text-anchor="middle" font-weight="normal" fill="#444" >50</text>
<text x="196.99" y="333.053" transform="matrix(1 0.001 0 1 0 0)" font-size="4.6" text-anchor="middle" font-weight="normal" fill="#444" >150</text>
<text x="206.46" y="333.044" transform="matrix(1 0.001 0 1 0 0)" font-size="4.6" text-anchor="middle" font-weight="normal" fill="#444" >0</text>
<text x="215.93" y="333.034" transform="matrix(1 0.001 0 1 0 0)" font-size="4.6" text-anchor="middle" font-weight="normal" fill="#444" >50</text>
<text x="225.40" y="333.025" transform="matrix(1 0.001 0 1 0 0)" font-size="4.6" text-anchor="middle" font-weight="normal" fill="#444" >150</text>
<text x="234.87" y="333.015" transform="matrix(1 0.001 0 1 0 0)" font-size="4.6" text-anchor="middle" font-weight="normal" fill="#444" >0</text>
<text x="244.34" y="333.006" transform="matrix(1 0.001 0 1 0 0)" font-size="4.6" text-anchor="middle" font-weight="normal" fill="#444" >50</text>
<text x="253.81" y="332.996" transform="matrix(1 0.001 0 1 0 0)" font-size="4.6" text-anchor="middle" font-weight="normal" fill="#444" >150</text>
<text x="36.00" y="341.714" transform="matrix(1 0.001 0 1 0 0)" font-size="5.8" text-anchor="middle" font-weight="normal" fill="#b4b4b4" stroke="#b4b4b4" stroke-width="0.55">&#8211;</text>
<text x="45.47" y="341.705" transform="matrix(1 0.001 0 1 0 0)" font-size="5.8" text-anchor="middle" font-weight="normal" fill="#b4b4b4" stroke="#b4b4b4" stroke-width="0.55">&#8211;</text>
<text x="54.94" y="341.695" transform="matrix(1 0.001 0 1 0 0)" font-size="5.8" text-anchor="middle" font-weight="normal" fill="#b4b4b4" stroke="#b4b4b4" stroke-width="0.55">&#8211;</text>
<text x="64.41" y="341.586" transform="matrix(1 0.001 0 1 0 0)" font-size="5" text-anchor="middle" font-weight="bold" fill="#111" stroke="#111" stroke-width="0.2">+</text>
<text x="73.88" y="341.576" transform="matrix(1 0.001 0 1 0 0)" font-size="5" text-anchor="middle" font-weight="bold" fill="#111" stroke="#111" stroke-width="0.2">+</text>
<text x="83.35" y="341.567" transform="matrix(1 0.001 0 1 0 0)" font-size="5" text-anchor="middle" font-weight="bold" fill="#111" stroke="#111" stroke-width="0.2">+</text>
<text x="92.82" y="341.657" transform="matrix(1 0.001 0 1 0 0)" font-size="5.8" text-anchor="middle" font-weight="normal" fill="#b4b4b4" stroke="#b4b4b4" stroke-width="0.55">&#8211;</text>
<text x="102.29" y="341.648" transform="matrix(1 0.001 0 1 0 0)" font-size="5.8" text-anchor="middle" font-weight="normal" fill="#b4b4b4" stroke="#b4b4b4" stroke-width="0.55">&#8211;</text>
<text x="111.76" y="341.638" transform="matrix(1 0.001 0 1 0 0)" font-size="5.8" text-anchor="middle" font-weight="normal" fill="#b4b4b4" stroke="#b4b4b4" stroke-width="0.55">&#8211;</text>
<text x="121.23" y="341.629" transform="matrix(1 0.001 0 1 0 0)" font-size="5.8" text-anchor="middle" font-weight="normal" fill="#b4b4b4" stroke="#b4b4b4" stroke-width="0.55">&#8211;</text>
<text x="130.70" y="341.619" transform="matrix(1 0.001 0 1 0 0)" font-size="5.8" text-anchor="middle" font-weight="normal" fill="#b4b4b4" stroke="#b4b4b4" stroke-width="0.55">&#8211;</text>
<text x="140.17" y="341.610" transform="matrix(1 0.001 0 1 0 0)" font-size="5.8" text-anchor="middle" font-weight="normal" fill="#b4b4b4" stroke="#b4b4b4" stroke-width="0.55">&#8211;</text>
<text x="149.64" y="341.600" transform="matrix(1 0.001 0 1 0 0)" font-size="5.8" text-anchor="middle" font-weight="normal" fill="#b4b4b4" stroke="#b4b4b4" stroke-width="0.55">&#8211;</text>
<text x="159.11" y="341.591" transform="matrix(1 0.001 0 1 0 0)" font-size="5.8" text-anchor="middle" font-weight="normal" fill="#b4b4b4" stroke="#b4b4b4" stroke-width="0.55">&#8211;</text>
<text x="168.58" y="341.581" transform="matrix(1 0.001 0 1 0 0)" font-size="5.8" text-anchor="middle" font-weight="normal" fill="#b4b4b4" stroke="#b4b4b4" stroke-width="0.55">&#8211;</text>
<text x="178.05" y="341.472" transform="matrix(1 0.001 0 1 0 0)" font-size="5" text-anchor="middle" font-weight="bold" fill="#111" stroke="#111" stroke-width="0.2">+</text>
<text x="187.52" y="341.462" transform="matrix(1 0.001 0 1 0 0)" font-size="5" text-anchor="middle" font-weight="bold" fill="#111" stroke="#111" stroke-width="0.2">+</text>
<text x="196.99" y="341.453" transform="matrix(1 0.001 0 1 0 0)" font-size="5" text-anchor="middle" font-weight="bold" fill="#111" stroke="#111" stroke-width="0.2">+</text>
<text x="206.46" y="341.544" transform="matrix(1 0.001 0 1 0 0)" font-size="5.8" text-anchor="middle" font-weight="normal" fill="#b4b4b4" stroke="#b4b4b4" stroke-width="0.55">&#8211;</text>
<text x="215.93" y="341.534" transform="matrix(1 0.001 0 1 0 0)" font-size="5.8" text-anchor="middle" font-weight="normal" fill="#b4b4b4" stroke="#b4b4b4" stroke-width="0.55">&#8211;</text>
<text x="225.40" y="341.525" transform="matrix(1 0.001 0 1 0 0)" font-size="5.8" text-anchor="middle" font-weight="normal" fill="#b4b4b4" stroke="#b4b4b4" stroke-width="0.55">&#8211;</text>
<text x="234.87" y="341.515" transform="matrix(1 0.001 0 1 0 0)" font-size="5.8" text-anchor="middle" font-weight="normal" fill="#b4b4b4" stroke="#b4b4b4" stroke-width="0.55">&#8211;</text>
<text x="244.34" y="341.506" transform="matrix(1 0.001 0 1 0 0)" font-size="5.8" text-anchor="middle" font-weight="normal" fill="#b4b4b4" stroke="#b4b4b4" stroke-width="0.55">&#8211;</text>
<text x="253.81" y="341.496" transform="matrix(1 0.001 0 1 0 0)" font-size="5.8" text-anchor="middle" font-weight="normal" fill="#b4b4b4" stroke="#b4b4b4" stroke-width="0.55">&#8211;</text>
<text x="36.00" y="349.514" transform="matrix(1 0.001 0 1 0 0)" font-size="5.8" text-anchor="middle" font-weight="normal" fill="#b4b4b4" stroke="#b4b4b4" stroke-width="0.55">&#8211;</text>
<text x="45.47" y="349.505" transform="matrix(1 0.001 0 1 0 0)" font-size="5.8" text-anchor="middle" font-weight="normal" fill="#b4b4b4" stroke="#b4b4b4" stroke-width="0.55">&#8211;</text>
<text x="54.94" y="349.495" transform="matrix(1 0.001 0 1 0 0)" font-size="5.8" text-anchor="middle" font-weight="normal" fill="#b4b4b4" stroke="#b4b4b4" stroke-width="0.55">&#8211;</text>
<text x="64.41" y="349.486" transform="matrix(1 0.001 0 1 0 0)" font-size="5.8" text-anchor="middle" font-weight="normal" fill="#b4b4b4" stroke="#b4b4b4" stroke-width="0.55">&#8211;</text>
<text x="73.88" y="349.476" transform="matrix(1 0.001 0 1 0 0)" font-size="5.8" text-anchor="middle" font-weight="normal" fill="#b4b4b4" stroke="#b4b4b4" stroke-width="0.55">&#8211;</text>
<text x="83.35" y="349.467" transform="matrix(1 0.001 0 1 0 0)" font-size="5.8" text-anchor="middle" font-weight="normal" fill="#b4b4b4" stroke="#b4b4b4" stroke-width="0.55">&#8211;</text>
<text x="92.82" y="349.357" transform="matrix(1 0.001 0 1 0 0)" font-size="5" text-anchor="middle" font-weight="bold" fill="#111" stroke="#111" stroke-width="0.2">+</text>
<text x="102.29" y="349.348" transform="matrix(1 0.001 0 1 0 0)" font-size="5" text-anchor="middle" font-weight="bold" fill="#111" stroke="#111" stroke-width="0.2">+</text>
<text x="111.76" y="349.338" transform="matrix(1 0.001 0 1 0 0)" font-size="5" text-anchor="middle" font-weight="bold" fill="#111" stroke="#111" stroke-width="0.2">+</text>
<text x="121.23" y="349.429" transform="matrix(1 0.001 0 1 0 0)" font-size="5.8" text-anchor="middle" font-weight="normal" fill="#b4b4b4" stroke="#b4b4b4" stroke-width="0.55">&#8211;</text>
<text x="130.70" y="349.419" transform="matrix(1 0.001 0 1 0 0)" font-size="5.8" text-anchor="middle" font-weight="normal" fill="#b4b4b4" stroke="#b4b4b4" stroke-width="0.55">&#8211;</text>
<text x="140.17" y="349.410" transform="matrix(1 0.001 0 1 0 0)" font-size="5.8" text-anchor="middle" font-weight="normal" fill="#b4b4b4" stroke="#b4b4b4" stroke-width="0.55">&#8211;</text>
<text x="149.64" y="349.400" transform="matrix(1 0.001 0 1 0 0)" font-size="5.8" text-anchor="middle" font-weight="normal" fill="#b4b4b4" stroke="#b4b4b4" stroke-width="0.55">&#8211;</text>
<text x="159.11" y="349.391" transform="matrix(1 0.001 0 1 0 0)" font-size="5.8" text-anchor="middle" font-weight="normal" fill="#b4b4b4" stroke="#b4b4b4" stroke-width="0.55">&#8211;</text>
<text x="168.58" y="349.381" transform="matrix(1 0.001 0 1 0 0)" font-size="5.8" text-anchor="middle" font-weight="normal" fill="#b4b4b4" stroke="#b4b4b4" stroke-width="0.55">&#8211;</text>
<text x="178.05" y="349.372" transform="matrix(1 0.001 0 1 0 0)" font-size="5.8" text-anchor="middle" font-weight="normal" fill="#b4b4b4" stroke="#b4b4b4" stroke-width="0.55">&#8211;</text>
<text x="187.52" y="349.362" transform="matrix(1 0.001 0 1 0 0)" font-size="5.8" text-anchor="middle" font-weight="normal" fill="#b4b4b4" stroke="#b4b4b4" stroke-width="0.55">&#8211;</text>
<text x="196.99" y="349.353" transform="matrix(1 0.001 0 1 0 0)" font-size="5.8" text-anchor="middle" font-weight="normal" fill="#b4b4b4" stroke="#b4b4b4" stroke-width="0.55">&#8211;</text>
<text x="206.46" y="349.244" transform="matrix(1 0.001 0 1 0 0)" font-size="5" text-anchor="middle" font-weight="bold" fill="#111" stroke="#111" stroke-width="0.2">+</text>
<text x="215.93" y="349.234" transform="matrix(1 0.001 0 1 0 0)" font-size="5" text-anchor="middle" font-weight="bold" fill="#111" stroke="#111" stroke-width="0.2">+</text>
<text x="225.40" y="349.225" transform="matrix(1 0.001 0 1 0 0)" font-size="5" text-anchor="middle" font-weight="bold" fill="#111" stroke="#111" stroke-width="0.2">+</text>
<text x="234.87" y="349.315" transform="matrix(1 0.001 0 1 0 0)" font-size="5.8" text-anchor="middle" font-weight="normal" fill="#b4b4b4" stroke="#b4b4b4" stroke-width="0.55">&#8211;</text>
<text x="244.34" y="349.306" transform="matrix(1 0.001 0 1 0 0)" font-size="5.8" text-anchor="middle" font-weight="normal" fill="#b4b4b4" stroke="#b4b4b4" stroke-width="0.55">&#8211;</text>
<text x="253.81" y="349.296" transform="matrix(1 0.001 0 1 0 0)" font-size="5.8" text-anchor="middle" font-weight="normal" fill="#b4b4b4" stroke="#b4b4b4" stroke-width="0.55">&#8211;</text>
<text x="36.00" y="357.214" transform="matrix(1 0.001 0 1 0 0)" font-size="5.8" text-anchor="middle" font-weight="normal" fill="#b4b4b4" stroke="#b4b4b4" stroke-width="0.55">&#8211;</text>
<text x="45.47" y="357.205" transform="matrix(1 0.001 0 1 0 0)" font-size="5.8" text-anchor="middle" font-weight="normal" fill="#b4b4b4" stroke="#b4b4b4" stroke-width="0.55">&#8211;</text>
<text x="54.94" y="357.195" transform="matrix(1 0.001 0 1 0 0)" font-size="5.8" text-anchor="middle" font-weight="normal" fill="#b4b4b4" stroke="#b4b4b4" stroke-width="0.55">&#8211;</text>
<text x="64.41" y="357.186" transform="matrix(1 0.001 0 1 0 0)" font-size="5.8" text-anchor="middle" font-weight="normal" fill="#b4b4b4" stroke="#b4b4b4" stroke-width="0.55">&#8211;</text>
<text x="73.88" y="357.176" transform="matrix(1 0.001 0 1 0 0)" font-size="5.8" text-anchor="middle" font-weight="normal" fill="#b4b4b4" stroke="#b4b4b4" stroke-width="0.55">&#8211;</text>
<text x="83.35" y="357.167" transform="matrix(1 0.001 0 1 0 0)" font-size="5.8" text-anchor="middle" font-weight="normal" fill="#b4b4b4" stroke="#b4b4b4" stroke-width="0.55">&#8211;</text>
<text x="92.82" y="357.157" transform="matrix(1 0.001 0 1 0 0)" font-size="5.8" text-anchor="middle" font-weight="normal" fill="#b4b4b4" stroke="#b4b4b4" stroke-width="0.55">&#8211;</text>
<text x="102.29" y="357.148" transform="matrix(1 0.001 0 1 0 0)" font-size="5.8" text-anchor="middle" font-weight="normal" fill="#b4b4b4" stroke="#b4b4b4" stroke-width="0.55">&#8211;</text>
<text x="111.76" y="357.138" transform="matrix(1 0.001 0 1 0 0)" font-size="5.8" text-anchor="middle" font-weight="normal" fill="#b4b4b4" stroke="#b4b4b4" stroke-width="0.55">&#8211;</text>
<text x="121.23" y="357.029" transform="matrix(1 0.001 0 1 0 0)" font-size="5" text-anchor="middle" font-weight="bold" fill="#111" stroke="#111" stroke-width="0.2">+</text>
<text x="130.70" y="357.019" transform="matrix(1 0.001 0 1 0 0)" font-size="5" text-anchor="middle" font-weight="bold" fill="#111" stroke="#111" stroke-width="0.2">+</text>
<text x="140.17" y="357.010" transform="matrix(1 0.001 0 1 0 0)" font-size="5" text-anchor="middle" font-weight="bold" fill="#111" stroke="#111" stroke-width="0.2">+</text>
<text x="149.64" y="357.100" transform="matrix(1 0.001 0 1 0 0)" font-size="5.8" text-anchor="middle" font-weight="normal" fill="#b4b4b4" stroke="#b4b4b4" stroke-width="0.55">&#8211;</text>
<text x="159.11" y="357.091" transform="matrix(1 0.001 0 1 0 0)" font-size="5.8" text-anchor="middle" font-weight="normal" fill="#b4b4b4" stroke="#b4b4b4" stroke-width="0.55">&#8211;</text>
<text x="168.58" y="357.081" transform="matrix(1 0.001 0 1 0 0)" font-size="5.8" text-anchor="middle" font-weight="normal" fill="#b4b4b4" stroke="#b4b4b4" stroke-width="0.55">&#8211;</text>
<text x="178.05" y="357.072" transform="matrix(1 0.001 0 1 0 0)" font-size="5.8" text-anchor="middle" font-weight="normal" fill="#b4b4b4" stroke="#b4b4b4" stroke-width="0.55">&#8211;</text>
<text x="187.52" y="357.062" transform="matrix(1 0.001 0 1 0 0)" font-size="5.8" text-anchor="middle" font-weight="normal" fill="#b4b4b4" stroke="#b4b4b4" stroke-width="0.55">&#8211;</text>
<text x="196.99" y="357.053" transform="matrix(1 0.001 0 1 0 0)" font-size="5.8" text-anchor="middle" font-weight="normal" fill="#b4b4b4" stroke="#b4b4b4" stroke-width="0.55">&#8211;</text>
<text x="206.46" y="357.044" transform="matrix(1 0.001 0 1 0 0)" font-size="5.8" text-anchor="middle" font-weight="normal" fill="#b4b4b4" stroke="#b4b4b4" stroke-width="0.55">&#8211;</text>
<text x="215.93" y="357.034" transform="matrix(1 0.001 0 1 0 0)" font-size="5.8" text-anchor="middle" font-weight="normal" fill="#b4b4b4" stroke="#b4b4b4" stroke-width="0.55">&#8211;</text>
<text x="225.40" y="357.025" transform="matrix(1 0.001 0 1 0 0)" font-size="5.8" text-anchor="middle" font-weight="normal" fill="#b4b4b4" stroke="#b4b4b4" stroke-width="0.55">&#8211;</text>
<text x="234.87" y="356.915" transform="matrix(1 0.001 0 1 0 0)" font-size="5" text-anchor="middle" font-weight="bold" fill="#111" stroke="#111" stroke-width="0.2">+</text>
<text x="244.34" y="356.906" transform="matrix(1 0.001 0 1 0 0)" font-size="5" text-anchor="middle" font-weight="bold" fill="#111" stroke="#111" stroke-width="0.2">+</text>
<text x="253.81" y="356.896" transform="matrix(1 0.001 0 1 0 0)" font-size="5" text-anchor="middle" font-weight="bold" fill="#111" stroke="#111" stroke-width="0.2">+</text>
<line x1="33.00" y1="361.90" x2="141.80" y2="361.90" stroke="#000" stroke-width="1.3" />
<line x1="147.00" y1="361.90" x2="258.60" y2="361.90" stroke="#000" stroke-width="1.3" />
<text x="84.00" y="368.716" transform="matrix(1 0.001 0 1 0 0)" font-size="5.8" text-anchor="middle" font-weight="normal" fill="#000" >C/EBP&#945; site</text>
<text x="202.80" y="368.597" transform="matrix(1 0.001 0 1 0 0)" font-size="5.8" text-anchor="middle" font-weight="normal" fill="#000" >mutated C/EBP&#945; site</text>
<text x="201.80" y="259.298" transform="matrix(1 0.001 0 1 0 0)" font-size="5.6" text-anchor="middle" font-weight="normal" fill="#000" >N = 2</text>
<line x1="291.30" y1="1.86" x2="291.30" y2="129.90" stroke="#000" stroke-width="1.1" />
<line x1="290.80" y1="129.30" x2="520.00" y2="129.30" stroke="#000" stroke-width="1.2" />
<line x1="288.90" y1="129.30" x2="291.30" y2="129.30" stroke="#000" stroke-width="0.9" />
<text x="285.90" y="129.394" transform="matrix(1 0.001 0 1 0 0)" font-size="7.0" text-anchor="end" font-weight="normal" fill="#000" >0</text>
<line x1="288.90" y1="113.42" x2="291.30" y2="113.42" stroke="#000" stroke-width="0.9" />
<text x="285.90" y="116.054" transform="matrix(1 0.001 0 1 0 0)" font-size="7.0" text-anchor="end" font-weight="normal" fill="#000" >2</text>
<line x1="288.90" y1="97.54" x2="291.30" y2="97.54" stroke="#000" stroke-width="0.9" />
<text x="285.90" y="100.114" transform="matrix(1 0.001 0 1 0 0)" font-size="7.0" text-anchor="end" font-weight="normal" fill="#000" >4</text>
<line x1="288.90" y1="81.66" x2="291.30" y2="81.66" stroke="#000" stroke-width="0.9" />
<text x="285.90" y="84.174" transform="matrix(1 0.001 0 1 0 0)" font-size="7.0" text-anchor="end" font-weight="normal" fill="#000" >6</text>
<line x1="288.90" y1="65.78" x2="291.30" y2="65.78" stroke="#000" stroke-width="0.9" />
<text x="285.90" y="68.234" transform="matrix(1 0.001 0 1 0 0)" font-size="7.0" text-anchor="end" font-weight="normal" fill="#000" >8</text>
<line x1="288.90" y1="49.90" x2="291.30" y2="49.90" stroke="#000" stroke-width="0.9" />
<text x="285.90" y="52.294" transform="matrix(1 0.001 0 1 0 0)" font-size="7.0" text-anchor="end" font-weight="normal" fill="#000" >10</text>
<line x1="288.90" y1="34.02" x2="291.30" y2="34.02" stroke="#000" stroke-width="0.9" />
<text x="285.90" y="36.354" transform="matrix(1 0.001 0 1 0 0)" font-size="7.0" text-anchor="end" font-weight="normal" fill="#000" >12</text>
<line x1="288.90" y1="18.14" x2="291.30" y2="18.14" stroke="#000" stroke-width="0.9" />
<text x="285.90" y="20.414" transform="matrix(1 0.001 0 1 0 0)" font-size="7.0" text-anchor="end" font-weight="normal" fill="#000" >14</text>
<line x1="288.90" y1="2.26" x2="291.30" y2="2.26" stroke="#000" stroke-width="0.9" />
<text x="285.90" y="4.474" transform="matrix(1 0.001 0 1 0 0)" font-size="7.0" text-anchor="end" font-weight="normal" fill="#000" >16</text>
<line x1="289.80" y1="121.36" x2="291.30" y2="121.36" stroke="#000" stroke-width="0.8" />
<line x1="289.80" y1="105.48" x2="291.30" y2="105.48" stroke="#000" stroke-width="0.8" />
<line x1="289.80" y1="89.60" x2="291.30" y2="89.60" stroke="#000" stroke-width="0.8" />
<line x1="289.80" y1="73.72" x2="291.30" y2="73.72" stroke="#000" stroke-width="0.8" />
<line x1="289.80" y1="57.84" x2="291.30" y2="57.84" stroke="#000" stroke-width="0.8" />
<line x1="289.80" y1="41.96" x2="291.30" y2="41.96" stroke="#000" stroke-width="0.8" />
<line x1="289.80" y1="26.08" x2="291.30" y2="26.08" stroke="#000" stroke-width="0.8" />
<line x1="289.80" y1="10.20" x2="291.30" y2="10.20" stroke="#000" stroke-width="0.8" />
<text transform="translate(269.70,63.00) rotate(-90) matrix(1 0.001 0 1 0 0)" font-size="7.0" text-anchor="middle" fill="#000">Relative promoter retrieval</text>
<text x="260.60" y="10.039" transform="matrix(1 0.001 0 1 0 0)" font-size="11.2" text-anchor="start" font-weight="bold" fill="#000" >C</text>
<line x1="300.50" y1="129.30" x2="300.50" y2="130.80" stroke="#000" stroke-width="0.7" />
<rect x="292.10" y="127.32" width="3.00" height="1.98" fill="#fff" stroke="#000" stroke-width="0.7"/>
<rect x="294.95" y="125.33" width="3.90" height="3.97" fill="#000"/>
<line x1="296.90" y1="122.95" x2="296.90" y2="125.33" stroke="#000" stroke-width="0.9" />
<line x1="294.00" y1="122.95" x2="299.80" y2="122.95" stroke="#000" stroke-width="0.9" />
<line x1="294.10" y1="127.71" x2="299.70" y2="127.71" stroke="#000" stroke-width="0.6" />
<line x1="295.60" y1="127.71" x2="298.20" y2="127.71" stroke="#666" stroke-width="0.5" />
<line x1="311.00" y1="129.30" x2="311.00" y2="130.80" stroke="#000" stroke-width="0.7" />
<rect x="302.60" y="124.14" width="3.00" height="5.16" fill="#fff" stroke="#000" stroke-width="0.7"/>
<line x1="304.10" y1="122.95" x2="304.10" y2="124.14" stroke="#000" stroke-width="0.75" />
<line x1="301.60" y1="122.95" x2="306.60" y2="122.95" stroke="#000" stroke-width="0.75" />
<rect x="305.45" y="122.39" width="3.90" height="6.91" fill="#000"/>
<line x1="307.40" y1="121.76" x2="307.40" y2="122.39" stroke="#000" stroke-width="0.9" />
<line x1="304.50" y1="121.76" x2="310.30" y2="121.76" stroke="#000" stroke-width="0.9" />
<line x1="304.60" y1="123.03" x2="310.20" y2="123.03" stroke="#000" stroke-width="0.6" />
<line x1="306.10" y1="123.03" x2="308.70" y2="123.03" stroke="#666" stroke-width="0.5" />
<line x1="319.70" y1="129.30" x2="319.70" y2="130.80" stroke="#000" stroke-width="0.7" />
<rect x="311.30" y="128.51" width="3.00" height="0.79" fill="#fff" stroke="#000" stroke-width="0.7"/>
<rect x="314.15" y="125.97" width="3.90" height="3.33" fill="#000"/>
<line x1="316.10" y1="122.63" x2="316.10" y2="125.97" stroke="#000" stroke-width="0.9" />
<line x1="313.20" y1="122.63" x2="319.00" y2="122.63" stroke="#000" stroke-width="0.9" />
<line x1="330.00" y1="129.30" x2="330.00" y2="130.80" stroke="#000" stroke-width="0.7" />
<rect x="321.60" y="121.36" width="3.00" height="7.94" fill="#fff" stroke="#000" stroke-width="0.7"/>
<line x1="323.10" y1="116.20" x2="323.10" y2="121.36" stroke="#000" stroke-width="0.75" />
<line x1="320.60" y1="116.20" x2="325.60" y2="116.20" stroke="#000" stroke-width="0.75" />
<rect x="324.45" y="126.92" width="3.90" height="2.38" fill="#000"/>
<line x1="339.40" y1="129.30" x2="339.40" y2="130.80" stroke="#000" stroke-width="0.7" />
<rect x="331.00" y="124.14" width="3.00" height="5.16" fill="#fff" stroke="#000" stroke-width="0.7"/>
<line x1="332.50" y1="120.80" x2="332.50" y2="124.14" stroke="#000" stroke-width="0.75" />
<line x1="330.00" y1="120.80" x2="335.00" y2="120.80" stroke="#000" stroke-width="0.75" />
<rect x="333.85" y="128.11" width="3.90" height="1.19" fill="#000"/>
<line x1="348.50" y1="129.30" x2="348.50" y2="130.80" stroke="#000" stroke-width="0.7" />
<rect x="340.10" y="125.33" width="3.00" height="3.97" fill="#fff" stroke="#000" stroke-width="0.7"/>
<rect x="342.95" y="78.01" width="3.90" height="51.29" fill="#000"/>
<line x1="344.90" y1="71.58" x2="344.90" y2="78.01" stroke="#000" stroke-width="0.9" />
<line x1="342.00" y1="71.58" x2="347.80" y2="71.58" stroke="#000" stroke-width="0.9" />
<line x1="342.10" y1="84.44" x2="347.70" y2="84.44" stroke="#000" stroke-width="0.6" />
<line x1="343.60" y1="84.44" x2="346.20" y2="84.44" stroke="#666" stroke-width="0.5" />
<line x1="358.10" y1="129.30" x2="358.10" y2="130.80" stroke="#000" stroke-width="0.7" />
<rect x="349.70" y="127.71" width="3.00" height="1.59" fill="#fff" stroke="#000" stroke-width="0.7"/>
<rect x="352.55" y="34.02" width="3.90" height="95.28" fill="#000"/>
<line x1="354.50" y1="18.93" x2="354.50" y2="34.02" stroke="#000" stroke-width="0.9" />
<line x1="351.60" y1="18.93" x2="357.40" y2="18.93" stroke="#000" stroke-width="0.9" />
<line x1="351.70" y1="49.11" x2="357.30" y2="49.11" stroke="#000" stroke-width="0.6" />
<line x1="353.20" y1="49.11" x2="355.80" y2="49.11" stroke="#666" stroke-width="0.5" />
<line x1="367.70" y1="129.30" x2="367.70" y2="130.80" stroke="#000" stroke-width="0.7" />
<rect x="359.30" y="121.92" width="3.00" height="7.38" fill="#fff" stroke="#000" stroke-width="0.7"/>
<line x1="360.80" y1="118.18" x2="360.80" y2="121.92" stroke="#000" stroke-width="0.75" />
<line x1="358.30" y1="118.18" x2="363.30" y2="118.18" stroke="#000" stroke-width="0.75" />
<rect x="362.15" y="76.58" width="3.90" height="52.72" fill="#000"/>
<line x1="364.10" y1="65.38" x2="364.10" y2="76.58" stroke="#000" stroke-width="0.9" />
<line x1="361.20" y1="65.38" x2="367.00" y2="65.38" stroke="#000" stroke-width="0.9" />
<line x1="361.30" y1="87.77" x2="366.90" y2="87.77" stroke="#000" stroke-width="0.6" />
<line x1="362.80" y1="87.77" x2="365.40" y2="87.77" stroke="#666" stroke-width="0.5" />
<line x1="377.30" y1="129.30" x2="377.30" y2="130.80" stroke="#000" stroke-width="0.7" />
<rect x="368.90" y="122.95" width="3.00" height="6.35" fill="#fff" stroke="#000" stroke-width="0.7"/>
<rect x="371.75" y="122.95" width="3.90" height="6.35" fill="#000"/>
<line x1="373.70" y1="119.77" x2="373.70" y2="122.95" stroke="#000" stroke-width="0.9" />
<line x1="370.80" y1="119.77" x2="376.60" y2="119.77" stroke="#000" stroke-width="0.9" />
<line x1="370.90" y1="126.12" x2="376.50" y2="126.12" stroke="#000" stroke-width="0.6" />
<line x1="372.40" y1="126.12" x2="375.00" y2="126.12" stroke="#666" stroke-width="0.5" />
<line x1="386.90" y1="129.30" x2="386.90" y2="130.80" stroke="#000" stroke-width="0.7" />
<rect x="378.50" y="128.51" width="3.00" height="0.79" fill="#fff" stroke="#000" stroke-width="0.7"/>
<rect x="381.35" y="105.48" width="3.90" height="23.82" fill="#000"/>
<line x1="383.30" y1="98.89" x2="383.30" y2="105.48" stroke="#000" stroke-width="0.9" />
<line x1="380.40" y1="98.89" x2="386.20" y2="98.89" stroke="#000" stroke-width="0.9" />
<line x1="380.50" y1="112.07" x2="386.10" y2="112.07" stroke="#000" stroke-width="0.6" />
<line x1="382.00" y1="112.07" x2="384.60" y2="112.07" stroke="#666" stroke-width="0.5" />
<line x1="396.50" y1="129.30" x2="396.50" y2="130.80" stroke="#000" stroke-width="0.7" />
<rect x="388.10" y="128.11" width="3.00" height="1.19" fill="#fff" stroke="#000" stroke-width="0.7"/>
<rect x="390.95" y="72.93" width="3.90" height="56.37" fill="#000"/>
<line x1="392.90" y1="55.06" x2="392.90" y2="72.93" stroke="#000" stroke-width="0.9" />
<line x1="390.00" y1="55.06" x2="395.80" y2="55.06" stroke="#000" stroke-width="0.9" />
<line x1="390.10" y1="90.79" x2="395.70" y2="90.79" stroke="#000" stroke-width="0.6" />
<line x1="391.60" y1="90.79" x2="394.20" y2="90.79" stroke="#666" stroke-width="0.5" />
<line x1="406.10" y1="129.30" x2="406.10" y2="130.80" stroke="#000" stroke-width="0.7" />
<rect x="397.70" y="121.76" width="3.00" height="7.54" fill="#fff" stroke="#000" stroke-width="0.7"/>
<rect x="400.55" y="121.36" width="3.90" height="7.94" fill="#000"/>
<line x1="402.50" y1="117.39" x2="402.50" y2="121.36" stroke="#000" stroke-width="0.9" />
<line x1="399.60" y1="117.39" x2="405.40" y2="117.39" stroke="#000" stroke-width="0.9" />
<line x1="399.70" y1="125.33" x2="405.30" y2="125.33" stroke="#000" stroke-width="0.6" />
<line x1="401.20" y1="125.33" x2="403.80" y2="125.33" stroke="#666" stroke-width="0.5" />
<line x1="415.50" y1="129.30" x2="415.50" y2="130.80" stroke="#000" stroke-width="0.7" />
<rect x="409.95" y="128.35" width="3.90" height="0.95" fill="#000"/>
<line x1="424.83" y1="129.30" x2="424.83" y2="130.80" stroke="#000" stroke-width="0.7" />
<rect x="419.28" y="128.35" width="3.90" height="0.95" fill="#000"/>
<line x1="434.16" y1="129.30" x2="434.16" y2="130.80" stroke="#000" stroke-width="0.7" />
<rect x="428.61" y="128.35" width="3.90" height="0.95" fill="#000"/>
<line x1="443.49" y1="129.30" x2="443.49" y2="130.80" stroke="#000" stroke-width="0.7" />
<rect x="437.94" y="128.35" width="3.90" height="0.95" fill="#000"/>
<line x1="452.82" y1="129.30" x2="452.82" y2="130.80" stroke="#000" stroke-width="0.7" />
<rect x="447.27" y="128.35" width="3.90" height="0.95" fill="#000"/>
<line x1="462.15" y1="129.30" x2="462.15" y2="130.80" stroke="#000" stroke-width="0.7" />
<rect x="456.60" y="128.35" width="3.90" height="0.95" fill="#000"/>
<line x1="471.48" y1="129.30" x2="471.48" y2="130.80" stroke="#000" stroke-width="0.7" />
<rect x="465.93" y="128.35" width="3.90" height="0.95" fill="#000"/>
<line x1="480.81" y1="129.30" x2="480.81" y2="130.80" stroke="#000" stroke-width="0.7" />
<rect x="475.26" y="128.35" width="3.90" height="0.95" fill="#000"/>
<line x1="490.14" y1="129.30" x2="490.14" y2="130.80" stroke="#000" stroke-width="0.7" />
<rect x="484.59" y="128.35" width="3.90" height="0.95" fill="#000"/>
<line x1="499.47" y1="129.30" x2="499.47" y2="130.80" stroke="#000" stroke-width="0.7" />
<rect x="493.92" y="128.35" width="3.90" height="0.95" fill="#000"/>
<line x1="508.80" y1="129.30" x2="508.80" y2="130.80" stroke="#000" stroke-width="0.7" />
<rect x="503.25" y="128.35" width="3.90" height="0.95" fill="#000"/>
<line x1="518.13" y1="129.30" x2="518.13" y2="130.80" stroke="#000" stroke-width="0.7" />
<rect x="512.58" y="128.35" width="3.90" height="0.95" fill="#000"/>
<text x="275.30" y="136.875" transform="matrix(1 0.001 0 1 0 0)" font-size="5.5" text-anchor="start" font-weight="normal" fill="#000" >ER</text>
<text x="275.30" y="142.975" transform="matrix(1 0.001 0 1 0 0)" font-size="5.5" text-anchor="start" font-weight="normal" fill="#000" >WT</text>
<text x="275.30" y="149.275" transform="matrix(1 0.001 0 1 0 0)" font-size="5.5" text-anchor="start" font-weight="normal" fill="#000" >S21A</text>
<text x="275.30" y="155.575" transform="matrix(1 0.001 0 1 0 0)" font-size="5.5" text-anchor="start" font-weight="normal" fill="#000" >S21D</text>
<text x="296.20" y="136.554" transform="matrix(1 0.001 0 1 0 0)" font-size="5" text-anchor="middle" font-weight="bold" fill="#111" stroke="#111" stroke-width="0.2">+</text>
<text x="305.80" y="136.644" transform="matrix(1 0.001 0 1 0 0)" font-size="5.8" text-anchor="middle" font-weight="normal" fill="#b4b4b4" stroke="#b4b4b4" stroke-width="0.55">&#8211;</text>
<text x="315.90" y="136.634" transform="matrix(1 0.001 0 1 0 0)" font-size="5.8" text-anchor="middle" font-weight="normal" fill="#b4b4b4" stroke="#b4b4b4" stroke-width="0.55">&#8211;</text>
<text x="325.25" y="136.625" transform="matrix(1 0.001 0 1 0 0)" font-size="5.8" text-anchor="middle" font-weight="normal" fill="#b4b4b4" stroke="#b4b4b4" stroke-width="0.55">&#8211;</text>
<text x="334.80" y="136.515" transform="matrix(1 0.001 0 1 0 0)" font-size="5" text-anchor="middle" font-weight="bold" fill="#111" stroke="#111" stroke-width="0.2">+</text>
<text x="344.90" y="136.605" transform="matrix(1 0.001 0 1 0 0)" font-size="5.8" text-anchor="middle" font-weight="normal" fill="#b4b4b4" stroke="#b4b4b4" stroke-width="0.55">&#8211;</text>
<text x="354.20" y="136.596" transform="matrix(1 0.001 0 1 0 0)" font-size="5.8" text-anchor="middle" font-weight="normal" fill="#b4b4b4" stroke="#b4b4b4" stroke-width="0.55">&#8211;</text>
<text x="362.30" y="136.588" transform="matrix(1 0.001 0 1 0 0)" font-size="5.8" text-anchor="middle" font-weight="normal" fill="#b4b4b4" stroke="#b4b4b4" stroke-width="0.55">&#8211;</text>
<text x="372.00" y="136.478" transform="matrix(1 0.001 0 1 0 0)" font-size="5" text-anchor="middle" font-weight="bold" fill="#111" stroke="#111" stroke-width="0.2">+</text>
<text x="381.70" y="136.568" transform="matrix(1 0.001 0 1 0 0)" font-size="5.8" text-anchor="middle" font-weight="normal" fill="#b4b4b4" stroke="#b4b4b4" stroke-width="0.55">&#8211;</text>
<text x="390.70" y="136.559" transform="matrix(1 0.001 0 1 0 0)" font-size="5.8" text-anchor="middle" font-weight="normal" fill="#b4b4b4" stroke="#b4b4b4" stroke-width="0.55">&#8211;</text>
<text x="399.50" y="136.550" transform="matrix(1 0.001 0 1 0 0)" font-size="5.8" text-anchor="middle" font-weight="normal" fill="#b4b4b4" stroke="#b4b4b4" stroke-width="0.55">&#8211;</text>
<text x="410.70" y="136.439" transform="matrix(1 0.001 0 1 0 0)" font-size="5" text-anchor="middle" font-weight="bold" fill="#111" stroke="#111" stroke-width="0.2">+</text>
<text x="419.60" y="136.530" transform="matrix(1 0.001 0 1 0 0)" font-size="5.8" text-anchor="middle" font-weight="normal" fill="#b4b4b4" stroke="#b4b4b4" stroke-width="0.55">&#8211;</text>
<text x="429.70" y="136.520" transform="matrix(1 0.001 0 1 0 0)" font-size="5.8" text-anchor="middle" font-weight="normal" fill="#b4b4b4" stroke="#b4b4b4" stroke-width="0.55">&#8211;</text>
<text x="438.60" y="136.511" transform="matrix(1 0.001 0 1 0 0)" font-size="5.8" text-anchor="middle" font-weight="normal" fill="#b4b4b4" stroke="#b4b4b4" stroke-width="0.55">&#8211;</text>
<text x="448.20" y="136.402" transform="matrix(1 0.001 0 1 0 0)" font-size="5" text-anchor="middle" font-weight="bold" fill="#111" stroke="#111" stroke-width="0.2">+</text>
<text x="457.50" y="136.492" transform="matrix(1 0.001 0 1 0 0)" font-size="5.8" text-anchor="middle" font-weight="normal" fill="#b4b4b4" stroke="#b4b4b4" stroke-width="0.55">&#8211;</text>
<text x="467.10" y="136.483" transform="matrix(1 0.001 0 1 0 0)" font-size="5.8" text-anchor="middle" font-weight="normal" fill="#b4b4b4" stroke="#b4b4b4" stroke-width="0.55">&#8211;</text>
<text x="475.80" y="136.474" transform="matrix(1 0.001 0 1 0 0)" font-size="5.8" text-anchor="middle" font-weight="normal" fill="#b4b4b4" stroke="#b4b4b4" stroke-width="0.55">&#8211;</text>
<text x="486.10" y="136.364" transform="matrix(1 0.001 0 1 0 0)" font-size="5" text-anchor="middle" font-weight="bold" fill="#111" stroke="#111" stroke-width="0.2">+</text>
<text x="495.50" y="136.454" transform="matrix(1 0.001 0 1 0 0)" font-size="5.8" text-anchor="middle" font-weight="normal" fill="#b4b4b4" stroke="#b4b4b4" stroke-width="0.55">&#8211;</text>
<text x="505.90" y="136.444" transform="matrix(1 0.001 0 1 0 0)" font-size="5.8" text-anchor="middle" font-weight="normal" fill="#b4b4b4" stroke="#b4b4b4" stroke-width="0.55">&#8211;</text>
<text x="515.10" y="136.435" transform="matrix(1 0.001 0 1 0 0)" font-size="5.8" text-anchor="middle" font-weight="normal" fill="#b4b4b4" stroke="#b4b4b4" stroke-width="0.55">&#8211;</text>
<text x="296.20" y="142.754" transform="matrix(1 0.001 0 1 0 0)" font-size="5.8" text-anchor="middle" font-weight="normal" fill="#b4b4b4" stroke="#b4b4b4" stroke-width="0.55">&#8211;</text>
<text x="305.80" y="142.644" transform="matrix(1 0.001 0 1 0 0)" font-size="5" text-anchor="middle" font-weight="bold" fill="#111" stroke="#111" stroke-width="0.2">+</text>
<text x="315.90" y="142.734" transform="matrix(1 0.001 0 1 0 0)" font-size="5.8" text-anchor="middle" font-weight="normal" fill="#b4b4b4" stroke="#b4b4b4" stroke-width="0.55">&#8211;</text>
<text x="325.25" y="142.725" transform="matrix(1 0.001 0 1 0 0)" font-size="5.8" text-anchor="middle" font-weight="normal" fill="#b4b4b4" stroke="#b4b4b4" stroke-width="0.55">&#8211;</text>
<text x="334.80" y="142.715" transform="matrix(1 0.001 0 1 0 0)" font-size="5.8" text-anchor="middle" font-weight="normal" fill="#b4b4b4" stroke="#b4b4b4" stroke-width="0.55">&#8211;</text>
<text x="344.90" y="142.605" transform="matrix(1 0.001 0 1 0 0)" font-size="5" text-anchor="middle" font-weight="bold" fill="#111" stroke="#111" stroke-width="0.2">+</text>
<text x="354.20" y="142.696" transform="matrix(1 0.001 0 1 0 0)" font-size="5.8" text-anchor="middle" font-weight="normal" fill="#b4b4b4" stroke="#b4b4b4" stroke-width="0.55">&#8211;</text>
<text x="362.30" y="142.688" transform="matrix(1 0.001 0 1 0 0)" font-size="5.8" text-anchor="middle" font-weight="normal" fill="#b4b4b4" stroke="#b4b4b4" stroke-width="0.55">&#8211;</text>
<text x="372.00" y="142.678" transform="matrix(1 0.001 0 1 0 0)" font-size="5.8" text-anchor="middle" font-weight="normal" fill="#b4b4b4" stroke="#b4b4b4" stroke-width="0.55">&#8211;</text>
<text x="381.70" y="142.568" transform="matrix(1 0.001 0 1 0 0)" font-size="5" text-anchor="middle" font-weight="bold" fill="#111" stroke="#111" stroke-width="0.2">+</text>
<text x="390.70" y="142.659" transform="matrix(1 0.001 0 1 0 0)" font-size="5.8" text-anchor="middle" font-weight="normal" fill="#b4b4b4" stroke="#b4b4b4" stroke-width="0.55">&#8211;</text>
<text x="399.50" y="142.651" transform="matrix(1 0.001 0 1 0 0)" font-size="5.8" text-anchor="middle" font-weight="normal" fill="#b4b4b4" stroke="#b4b4b4" stroke-width="0.55">&#8211;</text>
<text x="410.70" y="142.639" transform="matrix(1 0.001 0 1 0 0)" font-size="5.8" text-anchor="middle" font-weight="normal" fill="#b4b4b4" stroke="#b4b4b4" stroke-width="0.55">&#8211;</text>
<text x="419.60" y="142.530" transform="matrix(1 0.001 0 1 0 0)" font-size="5" text-anchor="middle" font-weight="bold" fill="#111" stroke="#111" stroke-width="0.2">+</text>
<text x="429.70" y="142.620" transform="matrix(1 0.001 0 1 0 0)" font-size="5.8" text-anchor="middle" font-weight="normal" fill="#b4b4b4" stroke="#b4b4b4" stroke-width="0.55">&#8211;</text>
<text x="438.60" y="142.611" transform="matrix(1 0.001 0 1 0 0)" font-size="5.8" text-anchor="middle" font-weight="normal" fill="#b4b4b4" stroke="#b4b4b4" stroke-width="0.55">&#8211;</text>
<text x="448.20" y="142.602" transform="matrix(1 0.001 0 1 0 0)" font-size="5.8" text-anchor="middle" font-weight="normal" fill="#b4b4b4" stroke="#b4b4b4" stroke-width="0.55">&#8211;</text>
<text x="457.50" y="142.493" transform="matrix(1 0.001 0 1 0 0)" font-size="5" text-anchor="middle" font-weight="bold" fill="#111" stroke="#111" stroke-width="0.2">+</text>
<text x="467.10" y="142.583" transform="matrix(1 0.001 0 1 0 0)" font-size="5.8" text-anchor="middle" font-weight="normal" fill="#b4b4b4" stroke="#b4b4b4" stroke-width="0.55">&#8211;</text>
<text x="475.80" y="142.574" transform="matrix(1 0.001 0 1 0 0)" font-size="5.8" text-anchor="middle" font-weight="normal" fill="#b4b4b4" stroke="#b4b4b4" stroke-width="0.55">&#8211;</text>
<text x="486.10" y="142.564" transform="matrix(1 0.001 0 1 0 0)" font-size="5.8" text-anchor="middle" font-weight="normal" fill="#b4b4b4" stroke="#b4b4b4" stroke-width="0.55">&#8211;</text>
<text x="495.50" y="142.455" transform="matrix(1 0.001 0 1 0 0)" font-size="5" text-anchor="middle" font-weight="bold" fill="#111" stroke="#111" stroke-width="0.2">+</text>
<text x="505.90" y="142.544" transform="matrix(1 0.001 0 1 0 0)" font-size="5.8" text-anchor="middle" font-weight="normal" fill="#b4b4b4" stroke="#b4b4b4" stroke-width="0.55">&#8211;</text>
<text x="515.10" y="142.535" transform="matrix(1 0.001 0 1 0 0)" font-size="5.8" text-anchor="middle" font-weight="normal" fill="#b4b4b4" stroke="#b4b4b4" stroke-width="0.55">&#8211;</text>
<text x="296.20" y="149.054" transform="matrix(1 0.001 0 1 0 0)" font-size="5.8" text-anchor="middle" font-weight="normal" fill="#b4b4b4" stroke="#b4b4b4" stroke-width="0.55">&#8211;</text>
<text x="305.80" y="149.044" transform="matrix(1 0.001 0 1 0 0)" font-size="5.8" text-anchor="middle" font-weight="normal" fill="#b4b4b4" stroke="#b4b4b4" stroke-width="0.55">&#8211;</text>
<text x="315.90" y="148.934" transform="matrix(1 0.001 0 1 0 0)" font-size="5" text-anchor="middle" font-weight="bold" fill="#111" stroke="#111" stroke-width="0.2">+</text>
<text x="325.25" y="149.025" transform="matrix(1 0.001 0 1 0 0)" font-size="5.8" text-anchor="middle" font-weight="normal" fill="#b4b4b4" stroke="#b4b4b4" stroke-width="0.55">&#8211;</text>
<text x="334.80" y="149.015" transform="matrix(1 0.001 0 1 0 0)" font-size="5.8" text-anchor="middle" font-weight="normal" fill="#b4b4b4" stroke="#b4b4b4" stroke-width="0.55">&#8211;</text>
<text x="344.90" y="149.005" transform="matrix(1 0.001 0 1 0 0)" font-size="5.8" text-anchor="middle" font-weight="normal" fill="#b4b4b4" stroke="#b4b4b4" stroke-width="0.55">&#8211;</text>
<text x="354.20" y="148.896" transform="matrix(1 0.001 0 1 0 0)" font-size="5" text-anchor="middle" font-weight="bold" fill="#111" stroke="#111" stroke-width="0.2">+</text>
<text x="362.30" y="148.988" transform="matrix(1 0.001 0 1 0 0)" font-size="5.8" text-anchor="middle" font-weight="normal" fill="#b4b4b4" stroke="#b4b4b4" stroke-width="0.55">&#8211;</text>
<text x="372.00" y="148.978" transform="matrix(1 0.001 0 1 0 0)" font-size="5.8" text-anchor="middle" font-weight="normal" fill="#b4b4b4" stroke="#b4b4b4" stroke-width="0.55">&#8211;</text>
<text x="381.70" y="148.968" transform="matrix(1 0.001 0 1 0 0)" font-size="5.8" text-anchor="middle" font-weight="normal" fill="#b4b4b4" stroke="#b4b4b4" stroke-width="0.55">&#8211;</text>
<text x="390.70" y="148.859" transform="matrix(1 0.001 0 1 0 0)" font-size="5" text-anchor="middle" font-weight="bold" fill="#111" stroke="#111" stroke-width="0.2">+</text>
<text x="399.50" y="148.951" transform="matrix(1 0.001 0 1 0 0)" font-size="5.8" text-anchor="middle" font-weight="normal" fill="#b4b4b4" stroke="#b4b4b4" stroke-width="0.55">&#8211;</text>
<text x="410.70" y="148.939" transform="matrix(1 0.001 0 1 0 0)" font-size="5.8" text-anchor="middle" font-weight="normal" fill="#b4b4b4" stroke="#b4b4b4" stroke-width="0.55">&#8211;</text>
<text x="419.60" y="148.930" transform="matrix(1 0.001 0 1 0 0)" font-size="5.8" text-anchor="middle" font-weight="normal" fill="#b4b4b4" stroke="#b4b4b4" stroke-width="0.55">&#8211;</text>
<text x="429.70" y="148.820" transform="matrix(1 0.001 0 1 0 0)" font-size="5" text-anchor="middle" font-weight="bold" fill="#111" stroke="#111" stroke-width="0.2">+</text>
<text x="438.60" y="148.911" transform="matrix(1 0.001 0 1 0 0)" font-size="5.8" text-anchor="middle" font-weight="normal" fill="#b4b4b4" stroke="#b4b4b4" stroke-width="0.55">&#8211;</text>
<text x="448.20" y="148.902" transform="matrix(1 0.001 0 1 0 0)" font-size="5.8" text-anchor="middle" font-weight="normal" fill="#b4b4b4" stroke="#b4b4b4" stroke-width="0.55">&#8211;</text>
<text x="457.50" y="148.892" transform="matrix(1 0.001 0 1 0 0)" font-size="5.8" text-anchor="middle" font-weight="normal" fill="#b4b4b4" stroke="#b4b4b4" stroke-width="0.55">&#8211;</text>
<text x="467.10" y="148.783" transform="matrix(1 0.001 0 1 0 0)" font-size="5" text-anchor="middle" font-weight="bold" fill="#111" stroke="#111" stroke-width="0.2">+</text>
<text x="475.80" y="148.874" transform="matrix(1 0.001 0 1 0 0)" font-size="5.8" text-anchor="middle" font-weight="normal" fill="#b4b4b4" stroke="#b4b4b4" stroke-width="0.55">&#8211;</text>
<text x="486.10" y="148.864" transform="matrix(1 0.001 0 1 0 0)" font-size="5.8" text-anchor="middle" font-weight="normal" fill="#b4b4b4" stroke="#b4b4b4" stroke-width="0.55">&#8211;</text>
<text x="495.50" y="148.855" transform="matrix(1 0.001 0 1 0 0)" font-size="5.8" text-anchor="middle" font-weight="normal" fill="#b4b4b4" stroke="#b4b4b4" stroke-width="0.55">&#8211;</text>
<text x="505.90" y="148.744" transform="matrix(1 0.001 0 1 0 0)" font-size="5" text-anchor="middle" font-weight="bold" fill="#111" stroke="#111" stroke-width="0.2">+</text>
<text x="515.10" y="148.835" transform="matrix(1 0.001 0 1 0 0)" font-size="5.8" text-anchor="middle" font-weight="normal" fill="#b4b4b4" stroke="#b4b4b4" stroke-width="0.55">&#8211;</text>
<text x="296.20" y="155.354" transform="matrix(1 0.001 0 1 0 0)" font-size="5.8" text-anchor="middle" font-weight="normal" fill="#b4b4b4" stroke="#b4b4b4" stroke-width="0.55">&#8211;</text>
<text x="305.80" y="155.344" transform="matrix(1 0.001 0 1 0 0)" font-size="5.8" text-anchor="middle" font-weight="normal" fill="#b4b4b4" stroke="#b4b4b4" stroke-width="0.55">&#8211;</text>
<text x="315.90" y="155.334" transform="matrix(1 0.001 0 1 0 0)" font-size="5.8" text-anchor="middle" font-weight="normal" fill="#b4b4b4" stroke="#b4b4b4" stroke-width="0.55">&#8211;</text>
<text x="325.25" y="155.225" transform="matrix(1 0.001 0 1 0 0)" font-size="5" text-anchor="middle" font-weight="bold" fill="#111" stroke="#111" stroke-width="0.2">+</text>
<text x="334.80" y="155.315" transform="matrix(1 0.001 0 1 0 0)" font-size="5.8" text-anchor="middle" font-weight="normal" fill="#b4b4b4" stroke="#b4b4b4" stroke-width="0.55">&#8211;</text>
<text x="344.90" y="155.305" transform="matrix(1 0.001 0 1 0 0)" font-size="5.8" text-anchor="middle" font-weight="normal" fill="#b4b4b4" stroke="#b4b4b4" stroke-width="0.55">&#8211;</text>
<text x="354.20" y="155.296" transform="matrix(1 0.001 0 1 0 0)" font-size="5.8" text-anchor="middle" font-weight="normal" fill="#b4b4b4" stroke="#b4b4b4" stroke-width="0.55">&#8211;</text>
<text x="362.30" y="155.188" transform="matrix(1 0.001 0 1 0 0)" font-size="5" text-anchor="middle" font-weight="bold" fill="#111" stroke="#111" stroke-width="0.2">+</text>
<text x="372.00" y="155.278" transform="matrix(1 0.001 0 1 0 0)" font-size="5.8" text-anchor="middle" font-weight="normal" fill="#b4b4b4" stroke="#b4b4b4" stroke-width="0.55">&#8211;</text>
<text x="381.70" y="155.268" transform="matrix(1 0.001 0 1 0 0)" font-size="5.8" text-anchor="middle" font-weight="normal" fill="#b4b4b4" stroke="#b4b4b4" stroke-width="0.55">&#8211;</text>
<text x="390.70" y="155.259" transform="matrix(1 0.001 0 1 0 0)" font-size="5.8" text-anchor="middle" font-weight="normal" fill="#b4b4b4" stroke="#b4b4b4" stroke-width="0.55">&#8211;</text>
<text x="399.50" y="155.151" transform="matrix(1 0.001 0 1 0 0)" font-size="5" text-anchor="middle" font-weight="bold" fill="#111" stroke="#111" stroke-width="0.2">+</text>
<text x="410.70" y="155.239" transform="matrix(1 0.001 0 1 0 0)" font-size="5.8" text-anchor="middle" font-weight="normal" fill="#b4b4b4" stroke="#b4b4b4" stroke-width="0.55">&#8211;</text>
<text x="419.60" y="155.230" transform="matrix(1 0.001 0 1 0 0)" font-size="5.8" text-anchor="middle" font-weight="normal" fill="#b4b4b4" stroke="#b4b4b4" stroke-width="0.55">&#8211;</text>
<text x="429.70" y="155.220" transform="matrix(1 0.001 0 1 0 0)" font-size="5.8" text-anchor="middle" font-weight="normal" fill="#b4b4b4" stroke="#b4b4b4" stroke-width="0.55">&#8211;</text>
<text x="438.60" y="155.111" transform="matrix(1 0.001 0 1 0 0)" font-size="5" text-anchor="middle" font-weight="bold" fill="#111" stroke="#111" stroke-width="0.2">+</text>
<text x="448.20" y="155.202" transform="matrix(1 0.001 0 1 0 0)" font-size="5.8" text-anchor="middle" font-weight="normal" fill="#b4b4b4" stroke="#b4b4b4" stroke-width="0.55">&#8211;</text>
<text x="457.50" y="155.192" transform="matrix(1 0.001 0 1 0 0)" font-size="5.8" text-anchor="middle" font-weight="normal" fill="#b4b4b4" stroke="#b4b4b4" stroke-width="0.55">&#8211;</text>
<text x="467.10" y="155.183" transform="matrix(1 0.001 0 1 0 0)" font-size="5.8" text-anchor="middle" font-weight="normal" fill="#b4b4b4" stroke="#b4b4b4" stroke-width="0.55">&#8211;</text>
<text x="475.80" y="155.074" transform="matrix(1 0.001 0 1 0 0)" font-size="5" text-anchor="middle" font-weight="bold" fill="#111" stroke="#111" stroke-width="0.2">+</text>
<text x="486.10" y="155.164" transform="matrix(1 0.001 0 1 0 0)" font-size="5.8" text-anchor="middle" font-weight="normal" fill="#b4b4b4" stroke="#b4b4b4" stroke-width="0.55">&#8211;</text>
<text x="495.50" y="155.155" transform="matrix(1 0.001 0 1 0 0)" font-size="5.8" text-anchor="middle" font-weight="normal" fill="#b4b4b4" stroke="#b4b4b4" stroke-width="0.55">&#8211;</text>
<text x="505.90" y="155.144" transform="matrix(1 0.001 0 1 0 0)" font-size="5.8" text-anchor="middle" font-weight="normal" fill="#b4b4b4" stroke="#b4b4b4" stroke-width="0.55">&#8211;</text>
<text x="515.10" y="155.035" transform="matrix(1 0.001 0 1 0 0)" font-size="5" text-anchor="middle" font-weight="bold" fill="#111" stroke="#111" stroke-width="0.2">+</text>
<line x1="290.70" y1="158.90" x2="324.40" y2="158.90" stroke="#000" stroke-width="1.0" />
<text x="307.50" y="164.642" transform="matrix(1 0.001 0 1 0 0)" font-size="5.5" text-anchor="middle" font-weight="normal" fill="#000" >0</text>
<line x1="329.70" y1="158.90" x2="363.80" y2="158.90" stroke="#000" stroke-width="1.0" />
<text x="346.70" y="164.603" transform="matrix(1 0.001 0 1 0 0)" font-size="5.5" text-anchor="middle" font-weight="normal" fill="#000" >2</text>
<line x1="367.60" y1="158.90" x2="401.50" y2="158.90" stroke="#000" stroke-width="1.0" />
<text x="386.30" y="164.564" transform="matrix(1 0.001 0 1 0 0)" font-size="5.5" text-anchor="middle" font-weight="normal" fill="#000" >6</text>
<line x1="407.50" y1="158.90" x2="441.80" y2="158.90" stroke="#000" stroke-width="1.0" />
<text x="425.20" y="164.525" transform="matrix(1 0.001 0 1 0 0)" font-size="5.5" text-anchor="middle" font-weight="normal" fill="#000" >0</text>
<line x1="446.60" y1="158.90" x2="480.20" y2="158.90" stroke="#000" stroke-width="1.0" />
<text x="464.20" y="164.486" transform="matrix(1 0.001 0 1 0 0)" font-size="5.5" text-anchor="middle" font-weight="normal" fill="#000" >2</text>
<line x1="485.00" y1="158.90" x2="519.40" y2="158.90" stroke="#000" stroke-width="1.0" />
<text x="503.10" y="164.447" transform="matrix(1 0.001 0 1 0 0)" font-size="5.5" text-anchor="middle" font-weight="normal" fill="#000" >6</text>
<text x="266.80" y="164.683" transform="matrix(1 0.001 0 1 0 0)" font-size="5.4" text-anchor="start" font-weight="normal" fill="#000" >&#946;-ED (hr)</text>
<line x1="291.00" y1="167.60" x2="398.50" y2="167.60" stroke="#000" stroke-width="1.0" />
<line x1="411.00" y1="167.60" x2="517.40" y2="167.60" stroke="#000" stroke-width="1.0" />
<text x="269.60" y="175.330" transform="matrix(1 0.001 0 1 0 0)" font-size="5.35" text-anchor="start" font-weight="normal" fill="#000" >Locus</text>
<text x="348.80" y="173.251" transform="matrix(1 0.001 0 1 0 0)" font-size="5.35" text-anchor="middle" font-weight="normal" fill="#000" >GCSFR</text>
<text x="465.00" y="173.135" transform="matrix(1 0.001 0 1 0 0)" font-size="5.45" text-anchor="middle" font-weight="normal" fill="#000" >GAPDH</text>
<rect x="455.50" y="26.90" width="3.30" height="3.30" fill="#fff" stroke="#000" stroke-width="1.0"/>
<rect x="455.00" y="35.40" width="4.20" height="4.20" fill="#000"/>
<text x="463.80" y="29.836" transform="matrix(1 0.001 0 1 0 0)" font-size="5.3" text-anchor="start" font-weight="normal" fill="#000" >IP: IgG</text>
<text x="463.80" y="38.936" transform="matrix(1 0.001 0 1 0 0)" font-size="5.3" text-anchor="start" font-weight="normal" fill="#000" >IP: DEK</text>
<path d="M307.40,64.60 Q307.40,62.00 310.00,62.00 L343.40,62.00 Q346.00,62.00 346.00,64.60" fill="none" stroke="#000" stroke-width="0.9"/>
<text x="325.60" y="61.374" transform="matrix(1 0.001 0 1 0 0)" font-size="6.8" text-anchor="middle" font-weight="normal" fill="#000" >**</text>
<path d="M317.30,15.20 Q317.30,12.60 319.90,12.60 L353.20,12.60 Q355.80,12.60 355.80,15.20" fill="none" stroke="#000" stroke-width="0.9"/>
<text x="336.00" y="12.564" transform="matrix(1 0.001 0 1 0 0)" font-size="6.8" text-anchor="middle" font-weight="normal" fill="#000" >**</text>
<line x1="291.30" y1="200.52" x2="291.30" y2="327.60" stroke="#000" stroke-width="1.1" />
<line x1="290.80" y1="327.00" x2="520.00" y2="327.00" stroke="#000" stroke-width="1.2" />
<line x1="288.90" y1="327.00" x2="291.30" y2="327.00" stroke="#000" stroke-width="0.9" />
<text x="285.90" y="327.674" transform="matrix(1 0.001 0 1 0 0)" font-size="7.0" text-anchor="end" font-weight="normal" fill="#000" >0</text>
<line x1="288.90" y1="311.24" x2="291.30" y2="311.24" stroke="#000" stroke-width="0.9" />
<text x="285.90" y="314.694" transform="matrix(1 0.001 0 1 0 0)" font-size="7.0" text-anchor="end" font-weight="normal" fill="#000" >2</text>
<line x1="288.90" y1="295.48" x2="291.30" y2="295.48" stroke="#000" stroke-width="0.9" />
<text x="285.90" y="298.714" transform="matrix(1 0.001 0 1 0 0)" font-size="7.0" text-anchor="end" font-weight="normal" fill="#000" >4</text>
<line x1="288.90" y1="279.72" x2="291.30" y2="279.72" stroke="#000" stroke-width="0.9" />
<text x="285.90" y="282.734" transform="matrix(1 0.001 0 1 0 0)" font-size="7.0" text-anchor="end" font-weight="normal" fill="#000" >6</text>
<line x1="288.90" y1="263.96" x2="291.30" y2="263.96" stroke="#000" stroke-width="0.9" />
<text x="285.90" y="266.754" transform="matrix(1 0.001 0 1 0 0)" font-size="7.0" text-anchor="end" font-weight="normal" fill="#000" >8</text>
<line x1="288.90" y1="248.20" x2="291.30" y2="248.20" stroke="#000" stroke-width="0.9" />
<text x="285.90" y="250.774" transform="matrix(1 0.001 0 1 0 0)" font-size="7.0" text-anchor="end" font-weight="normal" fill="#000" >10</text>
<line x1="288.90" y1="232.44" x2="291.30" y2="232.44" stroke="#000" stroke-width="0.9" />
<text x="285.90" y="234.794" transform="matrix(1 0.001 0 1 0 0)" font-size="7.0" text-anchor="end" font-weight="normal" fill="#000" >12</text>
<line x1="288.90" y1="216.68" x2="291.30" y2="216.68" stroke="#000" stroke-width="0.9" />
<text x="285.90" y="218.814" transform="matrix(1 0.001 0 1 0 0)" font-size="7.0" text-anchor="end" font-weight="normal" fill="#000" >14</text>
<line x1="288.90" y1="200.92" x2="291.30" y2="200.92" stroke="#000" stroke-width="0.9" />
<text x="285.90" y="202.834" transform="matrix(1 0.001 0 1 0 0)" font-size="7.0" text-anchor="end" font-weight="normal" fill="#000" >16</text>
<line x1="289.80" y1="319.12" x2="291.30" y2="319.12" stroke="#000" stroke-width="0.8" />
<line x1="289.80" y1="303.36" x2="291.30" y2="303.36" stroke="#000" stroke-width="0.8" />
<line x1="289.80" y1="287.60" x2="291.30" y2="287.60" stroke="#000" stroke-width="0.8" />
<line x1="289.80" y1="271.84" x2="291.30" y2="271.84" stroke="#000" stroke-width="0.8" />
<line x1="289.80" y1="256.08" x2="291.30" y2="256.08" stroke="#000" stroke-width="0.8" />
<line x1="289.80" y1="240.32" x2="291.30" y2="240.32" stroke="#000" stroke-width="0.8" />
<line x1="289.80" y1="224.56" x2="291.30" y2="224.56" stroke="#000" stroke-width="0.8" />
<line x1="289.80" y1="208.80" x2="291.30" y2="208.80" stroke="#000" stroke-width="0.8" />
<text transform="translate(269.70,271.50) rotate(-90) matrix(1 0.001 0 1 0 0)" font-size="7.0" text-anchor="middle" fill="#000">Relative promoter retrieval</text>
<text x="260.60" y="208.339" transform="matrix(1 0.001 0 1 0 0)" font-size="11.2" text-anchor="start" font-weight="bold" fill="#000" >D</text>
<line x1="300.20" y1="327.00" x2="300.20" y2="328.50" stroke="#000" stroke-width="0.7" />
<rect x="291.80" y="324.24" width="3.00" height="2.76" fill="#fff" stroke="#000" stroke-width="0.7"/>
<rect x="294.65" y="316.52" width="3.90" height="10.48" fill="#000"/>
<line x1="296.60" y1="310.69" x2="296.60" y2="316.52" stroke="#000" stroke-width="0.9" />
<line x1="293.70" y1="310.69" x2="299.50" y2="310.69" stroke="#000" stroke-width="0.9" />
<line x1="293.80" y1="322.35" x2="299.40" y2="322.35" stroke="#000" stroke-width="0.6" />
<line x1="295.30" y1="322.35" x2="297.90" y2="322.35" stroke="#666" stroke-width="0.5" />
<line x1="309.76" y1="327.00" x2="309.76" y2="328.50" stroke="#000" stroke-width="0.7" />
<rect x="301.36" y="325.03" width="3.00" height="1.97" fill="#fff" stroke="#000" stroke-width="0.7"/>
<rect x="304.21" y="319.44" width="3.90" height="7.56" fill="#000"/>
<line x1="306.16" y1="315.50" x2="306.16" y2="319.44" stroke="#000" stroke-width="0.9" />
<line x1="303.26" y1="315.50" x2="309.06" y2="315.50" stroke="#000" stroke-width="0.9" />
<line x1="303.36" y1="323.38" x2="308.96" y2="323.38" stroke="#000" stroke-width="0.6" />
<line x1="304.86" y1="323.38" x2="307.46" y2="323.38" stroke="#666" stroke-width="0.5" />
<line x1="319.32" y1="327.00" x2="319.32" y2="328.50" stroke="#000" stroke-width="0.7" />
<rect x="310.92" y="326.21" width="3.00" height="0.79" fill="#fff" stroke="#000" stroke-width="0.7"/>
<rect x="313.77" y="313.21" width="3.90" height="13.79" fill="#000"/>
<line x1="315.72" y1="309.51" x2="315.72" y2="313.21" stroke="#000" stroke-width="0.9" />
<line x1="312.82" y1="309.51" x2="318.62" y2="309.51" stroke="#000" stroke-width="0.9" />
<line x1="312.92" y1="316.91" x2="318.52" y2="316.91" stroke="#000" stroke-width="0.6" />
<line x1="314.42" y1="316.91" x2="317.02" y2="316.91" stroke="#666" stroke-width="0.5" />
<line x1="329.38" y1="327.00" x2="329.38" y2="328.50" stroke="#000" stroke-width="0.7" />
<rect x="320.98" y="323.06" width="3.00" height="3.94" fill="#fff" stroke="#000" stroke-width="0.7"/>
<line x1="322.48" y1="321.48" x2="322.48" y2="323.06" stroke="#000" stroke-width="0.75" />
<line x1="319.98" y1="321.48" x2="324.98" y2="321.48" stroke="#000" stroke-width="0.75" />
<rect x="323.83" y="316.52" width="3.90" height="10.48" fill="#000"/>
<line x1="325.78" y1="313.37" x2="325.78" y2="316.52" stroke="#000" stroke-width="0.9" />
<line x1="322.88" y1="313.37" x2="328.68" y2="313.37" stroke="#000" stroke-width="0.9" />
<line x1="322.98" y1="319.67" x2="328.58" y2="319.67" stroke="#000" stroke-width="0.6" />
<line x1="324.48" y1="319.67" x2="327.08" y2="319.67" stroke="#666" stroke-width="0.5" />
<line x1="338.44" y1="327.00" x2="338.44" y2="328.50" stroke="#000" stroke-width="0.7" />
<rect x="330.04" y="326.37" width="3.00" height="0.63" fill="#fff" stroke="#000" stroke-width="0.7"/>
<rect x="332.89" y="311.24" width="3.90" height="15.76" fill="#000"/>
<line x1="334.84" y1="308.40" x2="334.84" y2="311.24" stroke="#000" stroke-width="0.9" />
<line x1="331.94" y1="308.40" x2="337.74" y2="308.40" stroke="#000" stroke-width="0.9" />
<line x1="332.04" y1="314.08" x2="337.64" y2="314.08" stroke="#000" stroke-width="0.6" />
<line x1="333.54" y1="314.08" x2="336.14" y2="314.08" stroke="#666" stroke-width="0.5" />
<line x1="348.00" y1="327.00" x2="348.00" y2="328.50" stroke="#000" stroke-width="0.7" />
<rect x="339.60" y="323.06" width="3.00" height="3.94" fill="#fff" stroke="#000" stroke-width="0.7"/>
<rect x="342.45" y="247.41" width="3.90" height="79.59" fill="#000"/>
<line x1="344.40" y1="245.05" x2="344.40" y2="247.41" stroke="#000" stroke-width="0.9" />
<line x1="341.50" y1="245.05" x2="347.30" y2="245.05" stroke="#000" stroke-width="0.9" />
<line x1="341.60" y1="249.78" x2="347.20" y2="249.78" stroke="#000" stroke-width="0.6" />
<line x1="343.10" y1="249.78" x2="345.70" y2="249.78" stroke="#666" stroke-width="0.5" />
<line x1="357.56" y1="327.00" x2="357.56" y2="328.50" stroke="#000" stroke-width="0.7" />
<rect x="349.16" y="326.37" width="3.00" height="0.63" fill="#fff" stroke="#000" stroke-width="0.7"/>
<rect x="352.01" y="222.59" width="3.90" height="104.41" fill="#000"/>
<line x1="353.96" y1="206.44" x2="353.96" y2="222.59" stroke="#000" stroke-width="0.9" />
<line x1="351.06" y1="206.44" x2="356.86" y2="206.44" stroke="#000" stroke-width="0.9" />
<line x1="351.16" y1="238.74" x2="356.76" y2="238.74" stroke="#000" stroke-width="0.6" />
<line x1="352.66" y1="238.74" x2="355.26" y2="238.74" stroke="#666" stroke-width="0.5" />
<line x1="367.12" y1="327.00" x2="367.12" y2="328.50" stroke="#000" stroke-width="0.7" />
<rect x="358.72" y="320.70" width="3.00" height="6.30" fill="#fff" stroke="#000" stroke-width="0.7"/>
<line x1="360.22" y1="319.12" x2="360.22" y2="320.70" stroke="#000" stroke-width="0.75" />
<line x1="357.72" y1="319.12" x2="362.72" y2="319.12" stroke="#000" stroke-width="0.75" />
<rect x="361.57" y="279.72" width="3.90" height="47.28" fill="#000"/>
<line x1="363.52" y1="259.39" x2="363.52" y2="279.72" stroke="#000" stroke-width="0.9" />
<line x1="360.62" y1="259.39" x2="366.42" y2="259.39" stroke="#000" stroke-width="0.9" />
<line x1="360.72" y1="300.05" x2="366.32" y2="300.05" stroke="#000" stroke-width="0.6" />
<line x1="362.22" y1="300.05" x2="364.82" y2="300.05" stroke="#666" stroke-width="0.5" />
<line x1="376.68" y1="327.00" x2="376.68" y2="328.50" stroke="#000" stroke-width="0.7" />
<rect x="368.28" y="320.30" width="3.00" height="6.70" fill="#fff" stroke="#000" stroke-width="0.7"/>
<line x1="369.78" y1="317.54" x2="369.78" y2="320.30" stroke="#000" stroke-width="0.75" />
<line x1="367.28" y1="317.54" x2="372.28" y2="317.54" stroke="#000" stroke-width="0.75" />
<rect x="371.13" y="321.48" width="3.90" height="5.52" fill="#000"/>
<line x1="373.08" y1="319.91" x2="373.08" y2="321.48" stroke="#000" stroke-width="0.9" />
<line x1="370.18" y1="319.91" x2="375.98" y2="319.91" stroke="#000" stroke-width="0.9" />
<line x1="370.28" y1="323.06" x2="375.88" y2="323.06" stroke="#000" stroke-width="0.6" />
<line x1="371.78" y1="323.06" x2="374.38" y2="323.06" stroke="#666" stroke-width="0.5" />
<line x1="386.24" y1="327.00" x2="386.24" y2="328.50" stroke="#000" stroke-width="0.7" />
<rect x="377.84" y="322.11" width="3.00" height="4.89" fill="#fff" stroke="#000" stroke-width="0.7"/>
<line x1="379.34" y1="319.91" x2="379.34" y2="322.11" stroke="#000" stroke-width="0.75" />
<line x1="376.84" y1="319.91" x2="381.84" y2="319.91" stroke="#000" stroke-width="0.75" />
<rect x="380.69" y="279.72" width="3.90" height="47.28" fill="#000"/>
<line x1="382.64" y1="269.87" x2="382.64" y2="279.72" stroke="#000" stroke-width="0.9" />
<line x1="379.74" y1="269.87" x2="385.54" y2="269.87" stroke="#000" stroke-width="0.9" />
<line x1="379.84" y1="289.57" x2="385.44" y2="289.57" stroke="#000" stroke-width="0.6" />
<line x1="381.34" y1="289.57" x2="383.94" y2="289.57" stroke="#666" stroke-width="0.5" />
<line x1="395.80" y1="327.00" x2="395.80" y2="328.50" stroke="#000" stroke-width="0.7" />
<rect x="387.40" y="324.64" width="3.00" height="2.36" fill="#fff" stroke="#000" stroke-width="0.7"/>
<rect x="390.25" y="248.52" width="3.90" height="78.48" fill="#000"/>
<line x1="392.20" y1="231.65" x2="392.20" y2="248.52" stroke="#000" stroke-width="0.9" />
<line x1="389.30" y1="231.65" x2="395.10" y2="231.65" stroke="#000" stroke-width="0.9" />
<line x1="389.40" y1="265.38" x2="395.00" y2="265.38" stroke="#000" stroke-width="0.6" />
<line x1="390.90" y1="265.38" x2="393.50" y2="265.38" stroke="#666" stroke-width="0.5" />
<line x1="405.36" y1="327.00" x2="405.36" y2="328.50" stroke="#000" stroke-width="0.7" />
<rect x="396.96" y="323.45" width="3.00" height="3.55" fill="#fff" stroke="#000" stroke-width="0.7"/>
<line x1="398.46" y1="322.27" x2="398.46" y2="323.45" stroke="#000" stroke-width="0.75" />
<line x1="395.96" y1="322.27" x2="400.96" y2="322.27" stroke="#000" stroke-width="0.75" />
<rect x="399.81" y="312.03" width="3.90" height="14.97" fill="#000"/>
<line x1="401.76" y1="299.81" x2="401.76" y2="312.03" stroke="#000" stroke-width="0.9" />
<line x1="398.86" y1="299.81" x2="404.66" y2="299.81" stroke="#000" stroke-width="0.9" />
<line x1="398.96" y1="324.24" x2="404.56" y2="324.24" stroke="#000" stroke-width="0.6" />
<line x1="400.46" y1="324.24" x2="403.06" y2="324.24" stroke="#666" stroke-width="0.5" />
<line x1="415.50" y1="327.00" x2="415.50" y2="328.50" stroke="#000" stroke-width="0.7" />
<rect x="407.00" y="326.92" width="3.00" height="0.08" fill="#fff" stroke="#000" stroke-width="0.7"/>
<line x1="408.50" y1="323.06" x2="408.50" y2="326.92" stroke="#000" stroke-width="0.9" />
<line x1="406.00" y1="323.06" x2="411.00" y2="323.06" stroke="#000" stroke-width="0.9" />
<line x1="424.83" y1="327.00" x2="424.83" y2="328.50" stroke="#000" stroke-width="0.7" />
<rect x="416.33" y="326.92" width="3.00" height="0.08" fill="#fff" stroke="#000" stroke-width="0.7"/>
<line x1="417.83" y1="323.69" x2="417.83" y2="326.92" stroke="#000" stroke-width="0.9" />
<line x1="415.33" y1="323.69" x2="420.33" y2="323.69" stroke="#000" stroke-width="0.9" />
<line x1="434.16" y1="327.00" x2="434.16" y2="328.50" stroke="#000" stroke-width="0.7" />
<line x1="443.49" y1="327.00" x2="443.49" y2="328.50" stroke="#000" stroke-width="0.7" />
<rect x="434.99" y="326.92" width="3.00" height="0.08" fill="#fff" stroke="#000" stroke-width="0.7"/>
<line x1="436.49" y1="324.87" x2="436.49" y2="326.92" stroke="#000" stroke-width="0.9" />
<line x1="433.99" y1="324.87" x2="438.99" y2="324.87" stroke="#000" stroke-width="0.9" />
<line x1="452.82" y1="327.00" x2="452.82" y2="328.50" stroke="#000" stroke-width="0.7" />
<line x1="462.15" y1="327.00" x2="462.15" y2="328.50" stroke="#000" stroke-width="0.7" />
<rect x="453.65" y="325.27" width="3.00" height="1.73" fill="#fff" stroke="#000" stroke-width="0.7"/>
<line x1="471.48" y1="327.00" x2="471.48" y2="328.50" stroke="#000" stroke-width="0.7" />
<rect x="465.93" y="326.53" width="3.90" height="0.47" fill="#000"/>
<line x1="480.81" y1="327.00" x2="480.81" y2="328.50" stroke="#000" stroke-width="0.7" />
<line x1="490.14" y1="327.00" x2="490.14" y2="328.50" stroke="#000" stroke-width="0.7" />
<line x1="499.47" y1="327.00" x2="499.47" y2="328.50" stroke="#000" stroke-width="0.7" />
<rect x="490.97" y="321.17" width="3.00" height="5.83" fill="#fff" stroke="#000" stroke-width="0.7"/>
<rect x="493.92" y="325.82" width="3.90" height="1.18" fill="#000"/>
<line x1="508.80" y1="327.00" x2="508.80" y2="328.50" stroke="#000" stroke-width="0.7" />
<rect x="500.30" y="321.17" width="3.00" height="5.83" fill="#fff" stroke="#000" stroke-width="0.7"/>
<rect x="503.25" y="322.43" width="3.90" height="4.57" fill="#000"/>
<line x1="518.13" y1="327.00" x2="518.13" y2="328.50" stroke="#000" stroke-width="0.7" />
<text x="275.30" y="334.475" transform="matrix(1 0.001 0 1 0 0)" font-size="5.5" text-anchor="start" font-weight="normal" fill="#000" >ER</text>
<text x="275.30" y="340.875" transform="matrix(1 0.001 0 1 0 0)" font-size="5.5" text-anchor="start" font-weight="normal" fill="#000" >WT</text>
<text x="275.30" y="347.275" transform="matrix(1 0.001 0 1 0 0)" font-size="5.5" text-anchor="start" font-weight="normal" fill="#000" >S21A</text>
<text x="275.30" y="353.475" transform="matrix(1 0.001 0 1 0 0)" font-size="5.5" text-anchor="start" font-weight="normal" fill="#000" >S21D</text>
<text x="296.20" y="334.154" transform="matrix(1 0.001 0 1 0 0)" font-size="5" text-anchor="middle" font-weight="bold" fill="#111" stroke="#111" stroke-width="0.2">+</text>
<text x="305.80" y="334.244" transform="matrix(1 0.001 0 1 0 0)" font-size="5.8" text-anchor="middle" font-weight="normal" fill="#b4b4b4" stroke="#b4b4b4" stroke-width="0.55">&#8211;</text>
<text x="315.90" y="334.234" transform="matrix(1 0.001 0 1 0 0)" font-size="5.8" text-anchor="middle" font-weight="normal" fill="#b4b4b4" stroke="#b4b4b4" stroke-width="0.55">&#8211;</text>
<text x="325.25" y="334.225" transform="matrix(1 0.001 0 1 0 0)" font-size="5.8" text-anchor="middle" font-weight="normal" fill="#b4b4b4" stroke="#b4b4b4" stroke-width="0.55">&#8211;</text>
<text x="334.80" y="334.115" transform="matrix(1 0.001 0 1 0 0)" font-size="5" text-anchor="middle" font-weight="bold" fill="#111" stroke="#111" stroke-width="0.2">+</text>
<text x="344.90" y="334.205" transform="matrix(1 0.001 0 1 0 0)" font-size="5.8" text-anchor="middle" font-weight="normal" fill="#b4b4b4" stroke="#b4b4b4" stroke-width="0.55">&#8211;</text>
<text x="354.20" y="334.196" transform="matrix(1 0.001 0 1 0 0)" font-size="5.8" text-anchor="middle" font-weight="normal" fill="#b4b4b4" stroke="#b4b4b4" stroke-width="0.55">&#8211;</text>
<text x="362.30" y="334.188" transform="matrix(1 0.001 0 1 0 0)" font-size="5.8" text-anchor="middle" font-weight="normal" fill="#b4b4b4" stroke="#b4b4b4" stroke-width="0.55">&#8211;</text>
<text x="372.00" y="334.078" transform="matrix(1 0.001 0 1 0 0)" font-size="5" text-anchor="middle" font-weight="bold" fill="#111" stroke="#111" stroke-width="0.2">+</text>
<text x="381.70" y="334.168" transform="matrix(1 0.001 0 1 0 0)" font-size="5.8" text-anchor="middle" font-weight="normal" fill="#b4b4b4" stroke="#b4b4b4" stroke-width="0.55">&#8211;</text>
<text x="390.70" y="334.159" transform="matrix(1 0.001 0 1 0 0)" font-size="5.8" text-anchor="middle" font-weight="normal" fill="#b4b4b4" stroke="#b4b4b4" stroke-width="0.55">&#8211;</text>
<text x="399.50" y="334.151" transform="matrix(1 0.001 0 1 0 0)" font-size="5.8" text-anchor="middle" font-weight="normal" fill="#b4b4b4" stroke="#b4b4b4" stroke-width="0.55">&#8211;</text>
<text x="410.70" y="334.039" transform="matrix(1 0.001 0 1 0 0)" font-size="5" text-anchor="middle" font-weight="bold" fill="#111" stroke="#111" stroke-width="0.2">+</text>
<text x="419.60" y="334.130" transform="matrix(1 0.001 0 1 0 0)" font-size="5.8" text-anchor="middle" font-weight="normal" fill="#b4b4b4" stroke="#b4b4b4" stroke-width="0.55">&#8211;</text>
<text x="429.70" y="334.120" transform="matrix(1 0.001 0 1 0 0)" font-size="5.8" text-anchor="middle" font-weight="normal" fill="#b4b4b4" stroke="#b4b4b4" stroke-width="0.55">&#8211;</text>
<text x="438.60" y="334.111" transform="matrix(1 0.001 0 1 0 0)" font-size="5.8" text-anchor="middle" font-weight="normal" fill="#b4b4b4" stroke="#b4b4b4" stroke-width="0.55">&#8211;</text>
<text x="448.20" y="334.002" transform="matrix(1 0.001 0 1 0 0)" font-size="5" text-anchor="middle" font-weight="bold" fill="#111" stroke="#111" stroke-width="0.2">+</text>
<text x="457.50" y="334.093" transform="matrix(1 0.001 0 1 0 0)" font-size="5.8" text-anchor="middle" font-weight="normal" fill="#b4b4b4" stroke="#b4b4b4" stroke-width="0.55">&#8211;</text>
<text x="467.10" y="334.083" transform="matrix(1 0.001 0 1 0 0)" font-size="5.8" text-anchor="middle" font-weight="normal" fill="#b4b4b4" stroke="#b4b4b4" stroke-width="0.55">&#8211;</text>
<text x="475.80" y="334.074" transform="matrix(1 0.001 0 1 0 0)" font-size="5.8" text-anchor="middle" font-weight="normal" fill="#b4b4b4" stroke="#b4b4b4" stroke-width="0.55">&#8211;</text>
<text x="486.10" y="333.964" transform="matrix(1 0.001 0 1 0 0)" font-size="5" text-anchor="middle" font-weight="bold" fill="#111" stroke="#111" stroke-width="0.2">+</text>
<text x="495.50" y="334.055" transform="matrix(1 0.001 0 1 0 0)" font-size="5.8" text-anchor="middle" font-weight="normal" fill="#b4b4b4" stroke="#b4b4b4" stroke-width="0.55">&#8211;</text>
<text x="505.90" y="334.044" transform="matrix(1 0.001 0 1 0 0)" font-size="5.8" text-anchor="middle" font-weight="normal" fill="#b4b4b4" stroke="#b4b4b4" stroke-width="0.55">&#8211;</text>
<text x="515.10" y="334.035" transform="matrix(1 0.001 0 1 0 0)" font-size="5.8" text-anchor="middle" font-weight="normal" fill="#b4b4b4" stroke="#b4b4b4" stroke-width="0.55">&#8211;</text>
<text x="296.20" y="340.654" transform="matrix(1 0.001 0 1 0 0)" font-size="5.8" text-anchor="middle" font-weight="normal" fill="#b4b4b4" stroke="#b4b4b4" stroke-width="0.55">&#8211;</text>
<text x="305.80" y="340.544" transform="matrix(1 0.001 0 1 0 0)" font-size="5" text-anchor="middle" font-weight="bold" fill="#111" stroke="#111" stroke-width="0.2">+</text>
<text x="315.90" y="340.634" transform="matrix(1 0.001 0 1 0 0)" font-size="5.8" text-anchor="middle" font-weight="normal" fill="#b4b4b4" stroke="#b4b4b4" stroke-width="0.55">&#8211;</text>
<text x="325.25" y="340.625" transform="matrix(1 0.001 0 1 0 0)" font-size="5.8" text-anchor="middle" font-weight="normal" fill="#b4b4b4" stroke="#b4b4b4" stroke-width="0.55">&#8211;</text>
<text x="334.80" y="340.615" transform="matrix(1 0.001 0 1 0 0)" font-size="5.8" text-anchor="middle" font-weight="normal" fill="#b4b4b4" stroke="#b4b4b4" stroke-width="0.55">&#8211;</text>
<text x="344.90" y="340.505" transform="matrix(1 0.001 0 1 0 0)" font-size="5" text-anchor="middle" font-weight="bold" fill="#111" stroke="#111" stroke-width="0.2">+</text>
<text x="354.20" y="340.596" transform="matrix(1 0.001 0 1 0 0)" font-size="5.8" text-anchor="middle" font-weight="normal" fill="#b4b4b4" stroke="#b4b4b4" stroke-width="0.55">&#8211;</text>
<text x="362.30" y="340.588" transform="matrix(1 0.001 0 1 0 0)" font-size="5.8" text-anchor="middle" font-weight="normal" fill="#b4b4b4" stroke="#b4b4b4" stroke-width="0.55">&#8211;</text>
<text x="372.00" y="340.578" transform="matrix(1 0.001 0 1 0 0)" font-size="5.8" text-anchor="middle" font-weight="normal" fill="#b4b4b4" stroke="#b4b4b4" stroke-width="0.55">&#8211;</text>
<text x="381.70" y="340.468" transform="matrix(1 0.001 0 1 0 0)" font-size="5" text-anchor="middle" font-weight="bold" fill="#111" stroke="#111" stroke-width="0.2">+</text>
<text x="390.70" y="340.559" transform="matrix(1 0.001 0 1 0 0)" font-size="5.8" text-anchor="middle" font-weight="normal" fill="#b4b4b4" stroke="#b4b4b4" stroke-width="0.55">&#8211;</text>
<text x="399.50" y="340.550" transform="matrix(1 0.001 0 1 0 0)" font-size="5.8" text-anchor="middle" font-weight="normal" fill="#b4b4b4" stroke="#b4b4b4" stroke-width="0.55">&#8211;</text>
<text x="410.70" y="340.539" transform="matrix(1 0.001 0 1 0 0)" font-size="5.8" text-anchor="middle" font-weight="normal" fill="#b4b4b4" stroke="#b4b4b4" stroke-width="0.55">&#8211;</text>
<text x="419.60" y="340.430" transform="matrix(1 0.001 0 1 0 0)" font-size="5" text-anchor="middle" font-weight="bold" fill="#111" stroke="#111" stroke-width="0.2">+</text>
<text x="429.70" y="340.520" transform="matrix(1 0.001 0 1 0 0)" font-size="5.8" text-anchor="middle" font-weight="normal" fill="#b4b4b4" stroke="#b4b4b4" stroke-width="0.55">&#8211;</text>
<text x="438.60" y="340.511" transform="matrix(1 0.001 0 1 0 0)" font-size="5.8" text-anchor="middle" font-weight="normal" fill="#b4b4b4" stroke="#b4b4b4" stroke-width="0.55">&#8211;</text>
<text x="448.20" y="340.502" transform="matrix(1 0.001 0 1 0 0)" font-size="5.8" text-anchor="middle" font-weight="normal" fill="#b4b4b4" stroke="#b4b4b4" stroke-width="0.55">&#8211;</text>
<text x="457.50" y="340.392" transform="matrix(1 0.001 0 1 0 0)" font-size="5" text-anchor="middle" font-weight="bold" fill="#111" stroke="#111" stroke-width="0.2">+</text>
<text x="467.10" y="340.483" transform="matrix(1 0.001 0 1 0 0)" font-size="5.8" text-anchor="middle" font-weight="normal" fill="#b4b4b4" stroke="#b4b4b4" stroke-width="0.55">&#8211;</text>
<text x="475.80" y="340.474" transform="matrix(1 0.001 0 1 0 0)" font-size="5.8" text-anchor="middle" font-weight="normal" fill="#b4b4b4" stroke="#b4b4b4" stroke-width="0.55">&#8211;</text>
<text x="486.10" y="340.464" transform="matrix(1 0.001 0 1 0 0)" font-size="5.8" text-anchor="middle" font-weight="normal" fill="#b4b4b4" stroke="#b4b4b4" stroke-width="0.55">&#8211;</text>
<text x="495.50" y="340.354" transform="matrix(1 0.001 0 1 0 0)" font-size="5" text-anchor="middle" font-weight="bold" fill="#111" stroke="#111" stroke-width="0.2">+</text>
<text x="505.90" y="340.444" transform="matrix(1 0.001 0 1 0 0)" font-size="5.8" text-anchor="middle" font-weight="normal" fill="#b4b4b4" stroke="#b4b4b4" stroke-width="0.55">&#8211;</text>
<text x="515.10" y="340.435" transform="matrix(1 0.001 0 1 0 0)" font-size="5.8" text-anchor="middle" font-weight="normal" fill="#b4b4b4" stroke="#b4b4b4" stroke-width="0.55">&#8211;</text>
<text x="296.20" y="347.054" transform="matrix(1 0.001 0 1 0 0)" font-size="5.8" text-anchor="middle" font-weight="normal" fill="#b4b4b4" stroke="#b4b4b4" stroke-width="0.55">&#8211;</text>
<text x="305.80" y="347.044" transform="matrix(1 0.001 0 1 0 0)" font-size="5.8" text-anchor="middle" font-weight="normal" fill="#b4b4b4" stroke="#b4b4b4" stroke-width="0.55">&#8211;</text>
<text x="315.90" y="346.934" transform="matrix(1 0.001 0 1 0 0)" font-size="5" text-anchor="middle" font-weight="bold" fill="#111" stroke="#111" stroke-width="0.2">+</text>
<text x="325.25" y="347.025" transform="matrix(1 0.001 0 1 0 0)" font-size="5.8" text-anchor="middle" font-weight="normal" fill="#b4b4b4" stroke="#b4b4b4" stroke-width="0.55">&#8211;</text>
<text x="334.80" y="347.015" transform="matrix(1 0.001 0 1 0 0)" font-size="5.8" text-anchor="middle" font-weight="normal" fill="#b4b4b4" stroke="#b4b4b4" stroke-width="0.55">&#8211;</text>
<text x="344.90" y="347.005" transform="matrix(1 0.001 0 1 0 0)" font-size="5.8" text-anchor="middle" font-weight="normal" fill="#b4b4b4" stroke="#b4b4b4" stroke-width="0.55">&#8211;</text>
<text x="354.20" y="346.896" transform="matrix(1 0.001 0 1 0 0)" font-size="5" text-anchor="middle" font-weight="bold" fill="#111" stroke="#111" stroke-width="0.2">+</text>
<text x="362.30" y="346.988" transform="matrix(1 0.001 0 1 0 0)" font-size="5.8" text-anchor="middle" font-weight="normal" fill="#b4b4b4" stroke="#b4b4b4" stroke-width="0.55">&#8211;</text>
<text x="372.00" y="346.978" transform="matrix(1 0.001 0 1 0 0)" font-size="5.8" text-anchor="middle" font-weight="normal" fill="#b4b4b4" stroke="#b4b4b4" stroke-width="0.55">&#8211;</text>
<text x="381.70" y="346.968" transform="matrix(1 0.001 0 1 0 0)" font-size="5.8" text-anchor="middle" font-weight="normal" fill="#b4b4b4" stroke="#b4b4b4" stroke-width="0.55">&#8211;</text>
<text x="390.70" y="346.859" transform="matrix(1 0.001 0 1 0 0)" font-size="5" text-anchor="middle" font-weight="bold" fill="#111" stroke="#111" stroke-width="0.2">+</text>
<text x="399.50" y="346.951" transform="matrix(1 0.001 0 1 0 0)" font-size="5.8" text-anchor="middle" font-weight="normal" fill="#b4b4b4" stroke="#b4b4b4" stroke-width="0.55">&#8211;</text>
<text x="410.70" y="346.939" transform="matrix(1 0.001 0 1 0 0)" font-size="5.8" text-anchor="middle" font-weight="normal" fill="#b4b4b4" stroke="#b4b4b4" stroke-width="0.55">&#8211;</text>
<text x="419.60" y="346.930" transform="matrix(1 0.001 0 1 0 0)" font-size="5.8" text-anchor="middle" font-weight="normal" fill="#b4b4b4" stroke="#b4b4b4" stroke-width="0.55">&#8211;</text>
<text x="429.70" y="346.820" transform="matrix(1 0.001 0 1 0 0)" font-size="5" text-anchor="middle" font-weight="bold" fill="#111" stroke="#111" stroke-width="0.2">+</text>
<text x="438.60" y="346.911" transform="matrix(1 0.001 0 1 0 0)" font-size="5.8" text-anchor="middle" font-weight="normal" fill="#b4b4b4" stroke="#b4b4b4" stroke-width="0.55">&#8211;</text>
<text x="448.20" y="346.902" transform="matrix(1 0.001 0 1 0 0)" font-size="5.8" text-anchor="middle" font-weight="normal" fill="#b4b4b4" stroke="#b4b4b4" stroke-width="0.55">&#8211;</text>
<text x="457.50" y="346.893" transform="matrix(1 0.001 0 1 0 0)" font-size="5.8" text-anchor="middle" font-weight="normal" fill="#b4b4b4" stroke="#b4b4b4" stroke-width="0.55">&#8211;</text>
<text x="467.10" y="346.783" transform="matrix(1 0.001 0 1 0 0)" font-size="5" text-anchor="middle" font-weight="bold" fill="#111" stroke="#111" stroke-width="0.2">+</text>
<text x="475.80" y="346.874" transform="matrix(1 0.001 0 1 0 0)" font-size="5.8" text-anchor="middle" font-weight="normal" fill="#b4b4b4" stroke="#b4b4b4" stroke-width="0.55">&#8211;</text>
<text x="486.10" y="346.864" transform="matrix(1 0.001 0 1 0 0)" font-size="5.8" text-anchor="middle" font-weight="normal" fill="#b4b4b4" stroke="#b4b4b4" stroke-width="0.55">&#8211;</text>
<text x="495.50" y="346.855" transform="matrix(1 0.001 0 1 0 0)" font-size="5.8" text-anchor="middle" font-weight="normal" fill="#b4b4b4" stroke="#b4b4b4" stroke-width="0.55">&#8211;</text>
<text x="505.90" y="346.744" transform="matrix(1 0.001 0 1 0 0)" font-size="5" text-anchor="middle" font-weight="bold" fill="#111" stroke="#111" stroke-width="0.2">+</text>
<text x="515.10" y="346.835" transform="matrix(1 0.001 0 1 0 0)" font-size="5.8" text-anchor="middle" font-weight="normal" fill="#b4b4b4" stroke="#b4b4b4" stroke-width="0.55">&#8211;</text>
<text x="296.20" y="353.254" transform="matrix(1 0.001 0 1 0 0)" font-size="5.8" text-anchor="middle" font-weight="normal" fill="#b4b4b4" stroke="#b4b4b4" stroke-width="0.55">&#8211;</text>
<text x="305.80" y="353.244" transform="matrix(1 0.001 0 1 0 0)" font-size="5.8" text-anchor="middle" font-weight="normal" fill="#b4b4b4" stroke="#b4b4b4" stroke-width="0.55">&#8211;</text>
<text x="315.90" y="353.234" transform="matrix(1 0.001 0 1 0 0)" font-size="5.8" text-anchor="middle" font-weight="normal" fill="#b4b4b4" stroke="#b4b4b4" stroke-width="0.55">&#8211;</text>
<text x="325.25" y="353.125" transform="matrix(1 0.001 0 1 0 0)" font-size="5" text-anchor="middle" font-weight="bold" fill="#111" stroke="#111" stroke-width="0.2">+</text>
<text x="334.80" y="353.215" transform="matrix(1 0.001 0 1 0 0)" font-size="5.8" text-anchor="middle" font-weight="normal" fill="#b4b4b4" stroke="#b4b4b4" stroke-width="0.55">&#8211;</text>
<text x="344.90" y="353.205" transform="matrix(1 0.001 0 1 0 0)" font-size="5.8" text-anchor="middle" font-weight="normal" fill="#b4b4b4" stroke="#b4b4b4" stroke-width="0.55">&#8211;</text>
<text x="354.20" y="353.196" transform="matrix(1 0.001 0 1 0 0)" font-size="5.8" text-anchor="middle" font-weight="normal" fill="#b4b4b4" stroke="#b4b4b4" stroke-width="0.55">&#8211;</text>
<text x="362.30" y="353.088" transform="matrix(1 0.001 0 1 0 0)" font-size="5" text-anchor="middle" font-weight="bold" fill="#111" stroke="#111" stroke-width="0.2">+</text>
<text x="372.00" y="353.178" transform="matrix(1 0.001 0 1 0 0)" font-size="5.8" text-anchor="middle" font-weight="normal" fill="#b4b4b4" stroke="#b4b4b4" stroke-width="0.55">&#8211;</text>
<text x="381.70" y="353.168" transform="matrix(1 0.001 0 1 0 0)" font-size="5.8" text-anchor="middle" font-weight="normal" fill="#b4b4b4" stroke="#b4b4b4" stroke-width="0.55">&#8211;</text>
<text x="390.70" y="353.159" transform="matrix(1 0.001 0 1 0 0)" font-size="5.8" text-anchor="middle" font-weight="normal" fill="#b4b4b4" stroke="#b4b4b4" stroke-width="0.55">&#8211;</text>
<text x="399.50" y="353.050" transform="matrix(1 0.001 0 1 0 0)" font-size="5" text-anchor="middle" font-weight="bold" fill="#111" stroke="#111" stroke-width="0.2">+</text>
<text x="410.70" y="353.139" transform="matrix(1 0.001 0 1 0 0)" font-size="5.8" text-anchor="middle" font-weight="normal" fill="#b4b4b4" stroke="#b4b4b4" stroke-width="0.55">&#8211;</text>
<text x="419.60" y="353.130" transform="matrix(1 0.001 0 1 0 0)" font-size="5.8" text-anchor="middle" font-weight="normal" fill="#b4b4b4" stroke="#b4b4b4" stroke-width="0.55">&#8211;</text>
<text x="429.70" y="353.120" transform="matrix(1 0.001 0 1 0 0)" font-size="5.8" text-anchor="middle" font-weight="normal" fill="#b4b4b4" stroke="#b4b4b4" stroke-width="0.55">&#8211;</text>
<text x="438.60" y="353.011" transform="matrix(1 0.001 0 1 0 0)" font-size="5" text-anchor="middle" font-weight="bold" fill="#111" stroke="#111" stroke-width="0.2">+</text>
<text x="448.20" y="353.102" transform="matrix(1 0.001 0 1 0 0)" font-size="5.8" text-anchor="middle" font-weight="normal" fill="#b4b4b4" stroke="#b4b4b4" stroke-width="0.55">&#8211;</text>
<text x="457.50" y="353.093" transform="matrix(1 0.001 0 1 0 0)" font-size="5.8" text-anchor="middle" font-weight="normal" fill="#b4b4b4" stroke="#b4b4b4" stroke-width="0.55">&#8211;</text>
<text x="467.10" y="353.083" transform="matrix(1 0.001 0 1 0 0)" font-size="5.8" text-anchor="middle" font-weight="normal" fill="#b4b4b4" stroke="#b4b4b4" stroke-width="0.55">&#8211;</text>
<text x="475.80" y="352.974" transform="matrix(1 0.001 0 1 0 0)" font-size="5" text-anchor="middle" font-weight="bold" fill="#111" stroke="#111" stroke-width="0.2">+</text>
<text x="486.10" y="353.064" transform="matrix(1 0.001 0 1 0 0)" font-size="5.8" text-anchor="middle" font-weight="normal" fill="#b4b4b4" stroke="#b4b4b4" stroke-width="0.55">&#8211;</text>
<text x="495.50" y="353.055" transform="matrix(1 0.001 0 1 0 0)" font-size="5.8" text-anchor="middle" font-weight="normal" fill="#b4b4b4" stroke="#b4b4b4" stroke-width="0.55">&#8211;</text>
<text x="505.90" y="353.044" transform="matrix(1 0.001 0 1 0 0)" font-size="5.8" text-anchor="middle" font-weight="normal" fill="#b4b4b4" stroke="#b4b4b4" stroke-width="0.55">&#8211;</text>
<text x="515.10" y="352.935" transform="matrix(1 0.001 0 1 0 0)" font-size="5" text-anchor="middle" font-weight="bold" fill="#111" stroke="#111" stroke-width="0.2">+</text>
<line x1="290.70" y1="356.70" x2="324.40" y2="356.70" stroke="#000" stroke-width="1.0" />
<text x="307.50" y="362.542" transform="matrix(1 0.001 0 1 0 0)" font-size="5.5" text-anchor="middle" font-weight="normal" fill="#000" >0</text>
<line x1="329.70" y1="356.70" x2="363.80" y2="356.70" stroke="#000" stroke-width="1.0" />
<text x="346.70" y="362.503" transform="matrix(1 0.001 0 1 0 0)" font-size="5.5" text-anchor="middle" font-weight="normal" fill="#000" >2</text>
<line x1="367.60" y1="356.70" x2="401.50" y2="356.70" stroke="#000" stroke-width="1.0" />
<text x="386.30" y="362.464" transform="matrix(1 0.001 0 1 0 0)" font-size="5.5" text-anchor="middle" font-weight="normal" fill="#000" >6</text>
<line x1="407.50" y1="356.70" x2="441.80" y2="356.70" stroke="#000" stroke-width="1.0" />
<text x="425.20" y="362.425" transform="matrix(1 0.001 0 1 0 0)" font-size="5.5" text-anchor="middle" font-weight="normal" fill="#000" >0</text>
<line x1="446.60" y1="356.70" x2="480.20" y2="356.70" stroke="#000" stroke-width="1.0" />
<text x="464.20" y="362.386" transform="matrix(1 0.001 0 1 0 0)" font-size="5.5" text-anchor="middle" font-weight="normal" fill="#000" >2</text>
<line x1="485.00" y1="356.70" x2="519.40" y2="356.70" stroke="#000" stroke-width="1.0" />
<text x="503.10" y="362.347" transform="matrix(1 0.001 0 1 0 0)" font-size="5.5" text-anchor="middle" font-weight="normal" fill="#000" >6</text>
<text x="266.80" y="362.583" transform="matrix(1 0.001 0 1 0 0)" font-size="5.4" text-anchor="start" font-weight="normal" fill="#000" >&#946;-ED (hr)</text>
<line x1="291.00" y1="364.30" x2="398.50" y2="364.30" stroke="#000" stroke-width="1.0" />
<line x1="411.00" y1="364.30" x2="517.40" y2="364.30" stroke="#000" stroke-width="1.0" />
<text x="269.60" y="373.030" transform="matrix(1 0.001 0 1 0 0)" font-size="5.35" text-anchor="start" font-weight="normal" fill="#000" >Locus</text>
<text x="348.80" y="370.951" transform="matrix(1 0.001 0 1 0 0)" font-size="5.35" text-anchor="middle" font-weight="normal" fill="#000" font-style="italic">GCSFR</text>
<text x="465.00" y="370.835" transform="matrix(1 0.001 0 1 0 0)" font-size="5.45" text-anchor="middle" font-weight="normal" fill="#000" >GAPDH</text>
<rect x="455.50" y="223.40" width="3.30" height="3.30" fill="#fff" stroke="#000" stroke-width="1.0"/>
<rect x="455.00" y="231.90" width="4.20" height="4.20" fill="#000"/>
<text x="463.80" y="226.336" transform="matrix(1 0.001 0 1 0 0)" font-size="5.3" text-anchor="start" font-weight="normal" fill="#000" >IP: IgG</text>
<text x="463.80" y="235.436" transform="matrix(1 0.001 0 1 0 0)" font-size="5.45" text-anchor="start" font-weight="normal" fill="#000" >IP: C/EBP&#945;</text>
<path d="M305.30,242.60 Q305.30,240.00 307.90,240.00 L342.60,240.00 Q345.20,240.00 345.20,242.60" fill="none" stroke="#000" stroke-width="0.9"/>
<text x="323.70" y="238.876" transform="matrix(1 0.001 0 1 0 0)" font-size="6.8" text-anchor="middle" font-weight="normal" fill="#000" >**</text>
<path d="M315.30,205.80 Q315.30,203.20 317.90,203.20 L350.90,203.20 Q353.50,203.20 353.50,205.80" fill="none" stroke="#000" stroke-width="0.9"/>
<text x="334.00" y="200.866" transform="matrix(1 0.001 0 1 0 0)" font-size="6.8" text-anchor="middle" font-weight="normal" fill="#000" >**</text>
</svg>
</body></html>
